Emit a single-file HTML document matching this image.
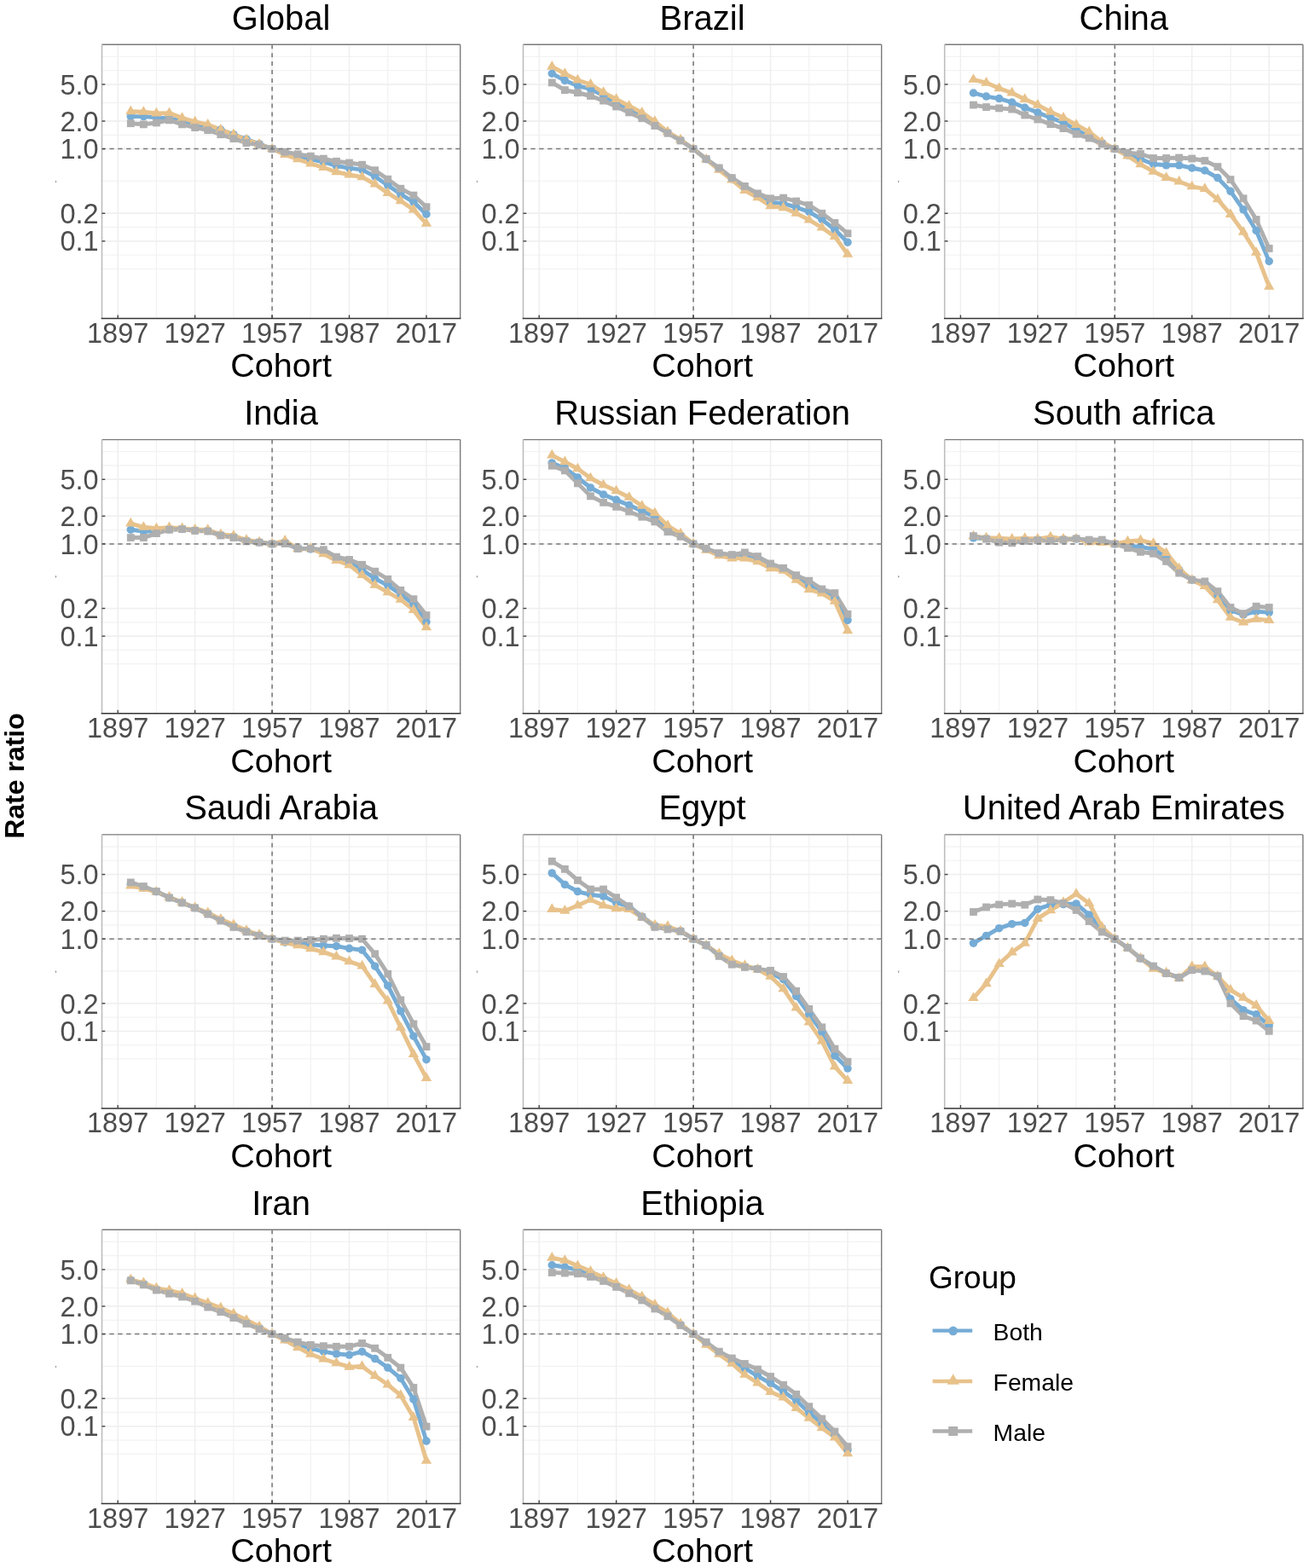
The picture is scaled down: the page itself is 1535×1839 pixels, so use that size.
<!DOCTYPE html>
<html><head><meta charset="utf-8"><title>Rate ratio by cohort</title>
<style>html,body{margin:0;padding:0;background:#fff;overflow:hidden;}svg{display:block;}text{font-family:"Liberation Sans", Arial, Helvetica, sans-serif;}</style></head><body>
<svg width="1535" height="1839" viewBox="0 0 1535 1839">
<rect x="0" y="0" width="1535" height="1839" fill="#fff"/>
<g transform="translate(119.5 52.3)">
<line x1="0" x2="420.2" y1="14.1" y2="14.1" stroke="#F3F3F3" stroke-width="1.3"/>
<line x1="0" x2="420.2" y1="30.39" y2="30.39" stroke="#F3F3F3" stroke-width="1.3"/>
<line x1="0" x2="420.2" y1="46.67" y2="46.67" stroke="#F3F3F3" stroke-width="1.3"/>
<line x1="0" x2="420.2" y1="68.2" y2="68.2" stroke="#F3F3F3" stroke-width="1.3"/>
<line x1="0" x2="420.2" y1="89.73" y2="89.73" stroke="#F3F3F3" stroke-width="1.3"/>
<line x1="0" x2="420.2" y1="106.01" y2="106.01" stroke="#F3F3F3" stroke-width="1.3"/>
<line x1="0" x2="420.2" y1="122.3" y2="122.3" stroke="#F3F3F3" stroke-width="1.3"/>
<line x1="0" x2="420.2" y1="160.11" y2="160.11" stroke="#F3F3F3" stroke-width="1.3"/>
<line x1="0" x2="420.2" y1="197.93" y2="197.93" stroke="#F3F3F3" stroke-width="1.3"/>
<line x1="0" x2="420.2" y1="214.21" y2="214.21" stroke="#F3F3F3" stroke-width="1.3"/>
<line x1="0" x2="420.2" y1="230.5" y2="230.5" stroke="#F3F3F3" stroke-width="1.3"/>
<line x1="0" x2="420.2" y1="246.79" y2="246.79" stroke="#F3F3F3" stroke-width="1.3"/>
<line x1="0" x2="420.2" y1="263.07" y2="263.07" stroke="#F3F3F3" stroke-width="1.3"/>
<line x1="63.92" x2="63.92" y1="0" y2="321.1" stroke="#F3F3F3" stroke-width="1.3"/>
<line x1="154.38" x2="154.38" y1="0" y2="321.1" stroke="#F3F3F3" stroke-width="1.3"/>
<line x1="244.82" x2="244.82" y1="0" y2="321.1" stroke="#F3F3F3" stroke-width="1.3"/>
<line x1="335.27" x2="335.27" y1="0" y2="321.1" stroke="#F3F3F3" stroke-width="1.3"/>
<line x1="0" x2="420.2" y1="46.67" y2="46.67" stroke="#EFEFEF" stroke-width="1.5"/>
<line x1="0" x2="420.2" y1="89.73" y2="89.73" stroke="#EFEFEF" stroke-width="1.5"/>
<line x1="0" x2="420.2" y1="122.3" y2="122.3" stroke="#EFEFEF" stroke-width="1.5"/>
<line x1="0" x2="420.2" y1="197.93" y2="197.93" stroke="#EFEFEF" stroke-width="1.5"/>
<line x1="0" x2="420.2" y1="230.5" y2="230.5" stroke="#EFEFEF" stroke-width="1.5"/>
<line x1="18.7" x2="18.7" y1="0" y2="321.1" stroke="#EFEFEF" stroke-width="1.5"/>
<line x1="109.15" x2="109.15" y1="0" y2="321.1" stroke="#EFEFEF" stroke-width="1.5"/>
<line x1="199.6" x2="199.6" y1="0" y2="321.1" stroke="#EFEFEF" stroke-width="1.5"/>
<line x1="290.05" x2="290.05" y1="0" y2="321.1" stroke="#EFEFEF" stroke-width="1.5"/>
<line x1="380.5" x2="380.5" y1="0" y2="321.1" stroke="#EFEFEF" stroke-width="1.5"/>
<ellipse cx="-54" cy="160.75" rx="0.7" ry="1.3" fill="#9a9a9a"/>
<path d="M33.77 84.3L48.85 84.3L63.92 85.5L79 86.8L94.08 89.3L109.15 93L124.23 96.7L139.3 99.8L154.38 105.4L169.45 110.9L184.53 116.5L199.6 122.3L214.67 127.2L229.75 130.5L244.82 134.4L259.9 137.7L274.98 142.2L290.05 144.8L305.12 146.8L320.2 154.6L335.27 165L350.35 175.5L365.43 184.6L380.5 198.9" fill="none" stroke="#75ACD6" stroke-width="4.9" stroke-linejoin="round" stroke-linecap="butt"/>
<path d="M33.77 78.4L48.85 79L63.92 80.6L79 80.3L94.08 86.1L109.15 90.5L124.23 93.9L139.3 99.8L154.38 105.4L169.45 111.6L184.53 116.8L199.6 122.3L214.67 129.2L229.75 134.4L244.82 139.6L259.9 144.2L274.98 149.4L290.05 152.7L305.12 155.3L320.2 163.7L335.27 174.1L350.35 183.3L365.43 193.7L380.5 210" fill="none" stroke="#E8C28B" stroke-width="4.9" stroke-linejoin="round" stroke-linecap="butt"/>
<path d="M33.77 92.4L48.85 93.6L63.92 91.7L79 88.6L94.08 93.6L109.15 97.3L124.23 100.4L139.3 105.4L154.38 110.3L169.45 115.3L184.53 117.7L199.6 122.3L214.67 125.9L229.75 128.5L244.82 130.9L259.9 133.8L274.98 137L290.05 138.7L305.12 140.9L320.2 147.4L335.27 157.9L350.35 168.9L365.43 176.8L380.5 190.4" fill="none" stroke="#AFAFAF" stroke-width="4.9" stroke-linejoin="round" stroke-linecap="butt"/>
<circle cx="33.77" cy="84.3" r="4.75" fill="#75ACD6"/>
<circle cx="48.85" cy="84.3" r="4.75" fill="#75ACD6"/>
<circle cx="63.92" cy="85.5" r="4.75" fill="#75ACD6"/>
<circle cx="79" cy="86.8" r="4.75" fill="#75ACD6"/>
<circle cx="94.08" cy="89.3" r="4.75" fill="#75ACD6"/>
<circle cx="109.15" cy="93" r="4.75" fill="#75ACD6"/>
<circle cx="124.23" cy="96.7" r="4.75" fill="#75ACD6"/>
<circle cx="139.3" cy="99.8" r="4.75" fill="#75ACD6"/>
<circle cx="154.38" cy="105.4" r="4.75" fill="#75ACD6"/>
<circle cx="169.45" cy="110.9" r="4.75" fill="#75ACD6"/>
<circle cx="184.53" cy="116.5" r="4.75" fill="#75ACD6"/>
<circle cx="199.6" cy="122.3" r="4.75" fill="#75ACD6"/>
<circle cx="214.67" cy="127.2" r="4.75" fill="#75ACD6"/>
<circle cx="229.75" cy="130.5" r="4.75" fill="#75ACD6"/>
<circle cx="244.82" cy="134.4" r="4.75" fill="#75ACD6"/>
<circle cx="259.9" cy="137.7" r="4.75" fill="#75ACD6"/>
<circle cx="274.98" cy="142.2" r="4.75" fill="#75ACD6"/>
<circle cx="290.05" cy="144.8" r="4.75" fill="#75ACD6"/>
<circle cx="305.12" cy="146.8" r="4.75" fill="#75ACD6"/>
<circle cx="320.2" cy="154.6" r="4.75" fill="#75ACD6"/>
<circle cx="335.27" cy="165" r="4.75" fill="#75ACD6"/>
<circle cx="350.35" cy="175.5" r="4.75" fill="#75ACD6"/>
<circle cx="365.43" cy="184.6" r="4.75" fill="#75ACD6"/>
<circle cx="380.5" cy="198.9" r="4.75" fill="#75ACD6"/>
<path d="M33.77 71.27L39.95 81.97L27.6 81.97ZM48.85 71.87L55.03 82.57L42.67 82.57ZM63.92 73.47L70.1 84.17L57.75 84.17ZM79 73.17L85.18 83.87L72.82 83.87ZM94.08 78.97L100.25 89.67L87.9 89.67ZM109.15 83.37L115.33 94.07L102.97 94.07ZM124.23 86.77L130.4 97.47L118.05 97.47ZM139.3 92.67L145.48 103.37L133.12 103.37ZM154.38 98.27L160.55 108.97L148.2 108.97ZM169.45 104.47L175.63 115.17L163.27 115.17ZM184.53 109.67L190.7 120.37L178.35 120.37ZM199.6 115.17L205.78 125.87L193.42 125.87ZM214.67 122.07L220.85 132.77L208.5 132.77ZM229.75 127.27L235.93 137.97L223.57 137.97ZM244.82 132.47L251 143.17L238.65 143.17ZM259.9 137.07L266.08 147.77L253.72 147.77ZM274.98 142.27L281.15 152.97L268.8 152.97ZM290.05 145.57L296.23 156.27L283.87 156.27ZM305.12 148.17L311.3 158.87L298.95 158.87ZM320.2 156.57L326.38 167.27L314.02 167.27ZM335.27 166.97L341.45 177.67L329.1 177.67ZM350.35 176.17L356.53 186.87L344.17 186.87ZM365.43 186.57L371.6 197.27L359.25 197.27ZM380.5 202.87L386.68 213.57L374.32 213.57Z" fill="#E8C28B"/>
<rect x="29.38" y="88" width="8.8" height="8.8" fill="#AFAFAF"/>
<rect x="44.45" y="89.2" width="8.8" height="8.8" fill="#AFAFAF"/>
<rect x="59.52" y="87.3" width="8.8" height="8.8" fill="#AFAFAF"/>
<rect x="74.6" y="84.2" width="8.8" height="8.8" fill="#AFAFAF"/>
<rect x="89.67" y="89.2" width="8.8" height="8.8" fill="#AFAFAF"/>
<rect x="104.75" y="92.9" width="8.8" height="8.8" fill="#AFAFAF"/>
<rect x="119.83" y="96" width="8.8" height="8.8" fill="#AFAFAF"/>
<rect x="134.9" y="101" width="8.8" height="8.8" fill="#AFAFAF"/>
<rect x="149.97" y="105.9" width="8.8" height="8.8" fill="#AFAFAF"/>
<rect x="165.05" y="110.9" width="8.8" height="8.8" fill="#AFAFAF"/>
<rect x="180.12" y="113.3" width="8.8" height="8.8" fill="#AFAFAF"/>
<rect x="195.2" y="117.9" width="8.8" height="8.8" fill="#AFAFAF"/>
<rect x="210.27" y="121.5" width="8.8" height="8.8" fill="#AFAFAF"/>
<rect x="225.35" y="124.1" width="8.8" height="8.8" fill="#AFAFAF"/>
<rect x="240.42" y="126.5" width="8.8" height="8.8" fill="#AFAFAF"/>
<rect x="255.5" y="129.4" width="8.8" height="8.8" fill="#AFAFAF"/>
<rect x="270.58" y="132.6" width="8.8" height="8.8" fill="#AFAFAF"/>
<rect x="285.65" y="134.3" width="8.8" height="8.8" fill="#AFAFAF"/>
<rect x="300.73" y="136.5" width="8.8" height="8.8" fill="#AFAFAF"/>
<rect x="315.8" y="143" width="8.8" height="8.8" fill="#AFAFAF"/>
<rect x="330.88" y="153.5" width="8.8" height="8.8" fill="#AFAFAF"/>
<rect x="345.95" y="164.5" width="8.8" height="8.8" fill="#AFAFAF"/>
<rect x="361.03" y="172.4" width="8.8" height="8.8" fill="#AFAFAF"/>
<rect x="376.1" y="186" width="8.8" height="8.8" fill="#AFAFAF"/>
<line x1="0" x2="420.2" y1="122.3" y2="122.3" stroke="#7a7a7a" stroke-width="1.5" stroke-dasharray="5.3 4.6" stroke-dashoffset="1"/>
<line x1="199.6" x2="199.6" y1="0" y2="321.1" stroke="#747474" stroke-width="1.5" stroke-dasharray="5 4.9"/>
<line x1="0" y1="0" x2="420.2" y2="0" stroke="#7a7a7a" stroke-width="1.4"/>
<line x1="420.2" y1="0" x2="420.2" y2="321.1" stroke="#7a7a7a" stroke-width="1.4"/>
<line x1="0" y1="0" x2="0" y2="321.1" stroke="#bdbdbd" stroke-width="1.6"/>
<line x1="-0.8" y1="321.1" x2="420.9" y2="321.1" stroke="#333" stroke-width="1.5"/>
<line x1="0" x2="3.8" y1="46.67" y2="46.67" stroke="#444" stroke-width="1.4"/>
<line x1="0" x2="3.8" y1="89.73" y2="89.73" stroke="#444" stroke-width="1.4"/>
<line x1="0" x2="3.8" y1="122.3" y2="122.3" stroke="#444" stroke-width="1.4"/>
<line x1="0" x2="3.8" y1="197.93" y2="197.93" stroke="#444" stroke-width="1.4"/>
<line x1="0" x2="3.8" y1="230.5" y2="230.5" stroke="#444" stroke-width="1.4"/>
<line x1="18.7" x2="18.7" y1="321.1" y2="317.1" stroke="#444" stroke-width="1.4"/>
<line x1="109.15" x2="109.15" y1="321.1" y2="317.1" stroke="#444" stroke-width="1.4"/>
<line x1="199.6" x2="199.6" y1="321.1" y2="317.1" stroke="#444" stroke-width="1.4"/>
<line x1="290.05" x2="290.05" y1="321.1" y2="317.1" stroke="#444" stroke-width="1.4"/>
<line x1="380.5" x2="380.5" y1="321.1" y2="317.1" stroke="#444" stroke-width="1.4"/>
<text x="-3.8" y="58.37" text-anchor="end" font-size="32.5" fill="#4D4D4D">5.0</text>
<text x="-3.8" y="101.43" text-anchor="end" font-size="32.5" fill="#4D4D4D">2.0</text>
<text x="-3.8" y="134" text-anchor="end" font-size="32.5" fill="#4D4D4D">1.0</text>
<text x="-3.8" y="209.63" text-anchor="end" font-size="32.5" fill="#4D4D4D">0.2</text>
<text x="-3.8" y="242.2" text-anchor="end" font-size="32.5" fill="#4D4D4D">0.1</text>
<text x="18.7" y="349.5" text-anchor="middle" font-size="32.5" fill="#4D4D4D">1897</text>
<text x="109.15" y="349.5" text-anchor="middle" font-size="32.5" fill="#4D4D4D">1927</text>
<text x="199.6" y="349.5" text-anchor="middle" font-size="32.5" fill="#4D4D4D">1957</text>
<text x="290.05" y="349.5" text-anchor="middle" font-size="32.5" fill="#4D4D4D">1987</text>
<text x="380.5" y="349.5" text-anchor="middle" font-size="32.5" fill="#4D4D4D">2017</text>
<text x="210.1" y="-17.6" text-anchor="middle" font-size="40" fill="#000">Global</text>
<text x="210.1" y="390.1" text-anchor="middle" font-size="39.5" fill="#000">Cohort</text>
</g>
<g transform="translate(613.5 52.3)">
<line x1="0" x2="420.2" y1="14.1" y2="14.1" stroke="#F3F3F3" stroke-width="1.3"/>
<line x1="0" x2="420.2" y1="30.39" y2="30.39" stroke="#F3F3F3" stroke-width="1.3"/>
<line x1="0" x2="420.2" y1="46.67" y2="46.67" stroke="#F3F3F3" stroke-width="1.3"/>
<line x1="0" x2="420.2" y1="68.2" y2="68.2" stroke="#F3F3F3" stroke-width="1.3"/>
<line x1="0" x2="420.2" y1="89.73" y2="89.73" stroke="#F3F3F3" stroke-width="1.3"/>
<line x1="0" x2="420.2" y1="106.01" y2="106.01" stroke="#F3F3F3" stroke-width="1.3"/>
<line x1="0" x2="420.2" y1="122.3" y2="122.3" stroke="#F3F3F3" stroke-width="1.3"/>
<line x1="0" x2="420.2" y1="160.11" y2="160.11" stroke="#F3F3F3" stroke-width="1.3"/>
<line x1="0" x2="420.2" y1="197.93" y2="197.93" stroke="#F3F3F3" stroke-width="1.3"/>
<line x1="0" x2="420.2" y1="214.21" y2="214.21" stroke="#F3F3F3" stroke-width="1.3"/>
<line x1="0" x2="420.2" y1="230.5" y2="230.5" stroke="#F3F3F3" stroke-width="1.3"/>
<line x1="0" x2="420.2" y1="246.79" y2="246.79" stroke="#F3F3F3" stroke-width="1.3"/>
<line x1="0" x2="420.2" y1="263.07" y2="263.07" stroke="#F3F3F3" stroke-width="1.3"/>
<line x1="63.92" x2="63.92" y1="0" y2="321.1" stroke="#F3F3F3" stroke-width="1.3"/>
<line x1="154.38" x2="154.38" y1="0" y2="321.1" stroke="#F3F3F3" stroke-width="1.3"/>
<line x1="244.82" x2="244.82" y1="0" y2="321.1" stroke="#F3F3F3" stroke-width="1.3"/>
<line x1="335.27" x2="335.27" y1="0" y2="321.1" stroke="#F3F3F3" stroke-width="1.3"/>
<line x1="0" x2="420.2" y1="46.67" y2="46.67" stroke="#EFEFEF" stroke-width="1.5"/>
<line x1="0" x2="420.2" y1="89.73" y2="89.73" stroke="#EFEFEF" stroke-width="1.5"/>
<line x1="0" x2="420.2" y1="122.3" y2="122.3" stroke="#EFEFEF" stroke-width="1.5"/>
<line x1="0" x2="420.2" y1="197.93" y2="197.93" stroke="#EFEFEF" stroke-width="1.5"/>
<line x1="0" x2="420.2" y1="230.5" y2="230.5" stroke="#EFEFEF" stroke-width="1.5"/>
<line x1="18.7" x2="18.7" y1="0" y2="321.1" stroke="#EFEFEF" stroke-width="1.5"/>
<line x1="109.15" x2="109.15" y1="0" y2="321.1" stroke="#EFEFEF" stroke-width="1.5"/>
<line x1="199.6" x2="199.6" y1="0" y2="321.1" stroke="#EFEFEF" stroke-width="1.5"/>
<line x1="290.05" x2="290.05" y1="0" y2="321.1" stroke="#EFEFEF" stroke-width="1.5"/>
<line x1="380.5" x2="380.5" y1="0" y2="321.1" stroke="#EFEFEF" stroke-width="1.5"/>
<ellipse cx="-54" cy="160.75" rx="0.7" ry="1.3" fill="#9a9a9a"/>
<path d="M33.77 33.95L48.85 42.1L63.92 48.3L79 52.1L94.08 59.7L109.15 69.2L124.23 75.7L139.3 83.2L154.38 92.7L169.45 103.2L184.53 112L199.6 122.3L214.67 134.4L229.75 145.7L244.82 157.5L259.9 168.6L274.98 177.1L290.05 185L305.12 186.3L320.2 190.9L335.27 196.1L350.35 205.2L365.43 216.9L380.5 231.9" fill="none" stroke="#75ACD6" stroke-width="4.9" stroke-linejoin="round" stroke-linecap="butt"/>
<path d="M33.77 25.8L48.85 34.2L63.92 41.7L79 46.7L94.08 56L109.15 64.2L124.23 72L139.3 79.8L154.38 90.1L169.45 102.3L184.53 111.6L199.6 122.3L214.67 134.6L229.75 147L244.82 158.7L259.9 171.1L274.98 179.5L290.05 189.3L305.12 191.3L320.2 197.8L335.27 205.6L350.35 214.7L365.43 225.1L380.5 246" fill="none" stroke="#E8C28B" stroke-width="4.9" stroke-linejoin="round" stroke-linecap="butt"/>
<path d="M33.77 44.6L48.85 53.3L63.92 56.45L79 60.2L94.08 65.8L109.15 72.7L124.23 79.6L139.3 86.45L154.38 95.2L169.45 103.95L184.53 112.7L199.6 122.3L214.67 134.2L229.75 144.6L244.82 156.3L259.9 166.1L274.98 174.6L290.05 180.5L305.12 179.8L320.2 183.7L335.27 188.3L350.35 198L365.43 209.1L380.5 221.5" fill="none" stroke="#AFAFAF" stroke-width="4.9" stroke-linejoin="round" stroke-linecap="butt"/>
<circle cx="33.77" cy="33.95" r="4.75" fill="#75ACD6"/>
<circle cx="48.85" cy="42.1" r="4.75" fill="#75ACD6"/>
<circle cx="63.92" cy="48.3" r="4.75" fill="#75ACD6"/>
<circle cx="79" cy="52.1" r="4.75" fill="#75ACD6"/>
<circle cx="94.08" cy="59.7" r="4.75" fill="#75ACD6"/>
<circle cx="109.15" cy="69.2" r="4.75" fill="#75ACD6"/>
<circle cx="124.23" cy="75.7" r="4.75" fill="#75ACD6"/>
<circle cx="139.3" cy="83.2" r="4.75" fill="#75ACD6"/>
<circle cx="154.38" cy="92.7" r="4.75" fill="#75ACD6"/>
<circle cx="169.45" cy="103.2" r="4.75" fill="#75ACD6"/>
<circle cx="184.53" cy="112" r="4.75" fill="#75ACD6"/>
<circle cx="199.6" cy="122.3" r="4.75" fill="#75ACD6"/>
<circle cx="214.67" cy="134.4" r="4.75" fill="#75ACD6"/>
<circle cx="229.75" cy="145.7" r="4.75" fill="#75ACD6"/>
<circle cx="244.82" cy="157.5" r="4.75" fill="#75ACD6"/>
<circle cx="259.9" cy="168.6" r="4.75" fill="#75ACD6"/>
<circle cx="274.98" cy="177.1" r="4.75" fill="#75ACD6"/>
<circle cx="290.05" cy="185" r="4.75" fill="#75ACD6"/>
<circle cx="305.12" cy="186.3" r="4.75" fill="#75ACD6"/>
<circle cx="320.2" cy="190.9" r="4.75" fill="#75ACD6"/>
<circle cx="335.27" cy="196.1" r="4.75" fill="#75ACD6"/>
<circle cx="350.35" cy="205.2" r="4.75" fill="#75ACD6"/>
<circle cx="365.43" cy="216.9" r="4.75" fill="#75ACD6"/>
<circle cx="380.5" cy="231.9" r="4.75" fill="#75ACD6"/>
<path d="M33.77 18.67L39.95 29.37L27.6 29.37ZM48.85 27.07L55.03 37.77L42.67 37.77ZM63.92 34.57L70.1 45.27L57.75 45.27ZM79 39.57L85.18 50.27L72.82 50.27ZM94.08 48.87L100.25 59.57L87.9 59.57ZM109.15 57.07L115.33 67.77L102.97 67.77ZM124.23 64.87L130.4 75.57L118.05 75.57ZM139.3 72.67L145.48 83.37L133.12 83.37ZM154.38 82.97L160.55 93.67L148.2 93.67ZM169.45 95.17L175.63 105.87L163.27 105.87ZM184.53 104.47L190.7 115.17L178.35 115.17ZM199.6 115.17L205.78 125.87L193.42 125.87ZM214.67 127.47L220.85 138.17L208.5 138.17ZM229.75 139.87L235.93 150.57L223.57 150.57ZM244.82 151.57L251 162.27L238.65 162.27ZM259.9 163.97L266.08 174.67L253.72 174.67ZM274.98 172.37L281.15 183.07L268.8 183.07ZM290.05 182.17L296.23 192.87L283.87 192.87ZM305.12 184.17L311.3 194.87L298.95 194.87ZM320.2 190.67L326.38 201.37L314.02 201.37ZM335.27 198.47L341.45 209.17L329.1 209.17ZM350.35 207.57L356.53 218.27L344.17 218.27ZM365.43 217.97L371.6 228.67L359.25 228.67ZM380.5 238.87L386.68 249.57L374.32 249.57Z" fill="#E8C28B"/>
<rect x="29.38" y="40.2" width="8.8" height="8.8" fill="#AFAFAF"/>
<rect x="44.45" y="48.9" width="8.8" height="8.8" fill="#AFAFAF"/>
<rect x="59.52" y="52.05" width="8.8" height="8.8" fill="#AFAFAF"/>
<rect x="74.6" y="55.8" width="8.8" height="8.8" fill="#AFAFAF"/>
<rect x="89.67" y="61.4" width="8.8" height="8.8" fill="#AFAFAF"/>
<rect x="104.75" y="68.3" width="8.8" height="8.8" fill="#AFAFAF"/>
<rect x="119.83" y="75.2" width="8.8" height="8.8" fill="#AFAFAF"/>
<rect x="134.9" y="82.05" width="8.8" height="8.8" fill="#AFAFAF"/>
<rect x="149.97" y="90.8" width="8.8" height="8.8" fill="#AFAFAF"/>
<rect x="165.05" y="99.55" width="8.8" height="8.8" fill="#AFAFAF"/>
<rect x="180.12" y="108.3" width="8.8" height="8.8" fill="#AFAFAF"/>
<rect x="195.2" y="117.9" width="8.8" height="8.8" fill="#AFAFAF"/>
<rect x="210.27" y="129.8" width="8.8" height="8.8" fill="#AFAFAF"/>
<rect x="225.35" y="140.2" width="8.8" height="8.8" fill="#AFAFAF"/>
<rect x="240.42" y="151.9" width="8.8" height="8.8" fill="#AFAFAF"/>
<rect x="255.5" y="161.7" width="8.8" height="8.8" fill="#AFAFAF"/>
<rect x="270.58" y="170.2" width="8.8" height="8.8" fill="#AFAFAF"/>
<rect x="285.65" y="176.1" width="8.8" height="8.8" fill="#AFAFAF"/>
<rect x="300.73" y="175.4" width="8.8" height="8.8" fill="#AFAFAF"/>
<rect x="315.8" y="179.3" width="8.8" height="8.8" fill="#AFAFAF"/>
<rect x="330.88" y="183.9" width="8.8" height="8.8" fill="#AFAFAF"/>
<rect x="345.95" y="193.6" width="8.8" height="8.8" fill="#AFAFAF"/>
<rect x="361.03" y="204.7" width="8.8" height="8.8" fill="#AFAFAF"/>
<rect x="376.1" y="217.1" width="8.8" height="8.8" fill="#AFAFAF"/>
<line x1="0" x2="420.2" y1="122.3" y2="122.3" stroke="#7a7a7a" stroke-width="1.5" stroke-dasharray="5.3 4.6" stroke-dashoffset="1"/>
<line x1="199.6" x2="199.6" y1="0" y2="321.1" stroke="#747474" stroke-width="1.5" stroke-dasharray="5 4.9"/>
<line x1="0" y1="0" x2="420.2" y2="0" stroke="#7a7a7a" stroke-width="1.4"/>
<line x1="420.2" y1="0" x2="420.2" y2="321.1" stroke="#7a7a7a" stroke-width="1.4"/>
<line x1="0" y1="0" x2="0" y2="321.1" stroke="#bdbdbd" stroke-width="1.6"/>
<line x1="-0.8" y1="321.1" x2="420.9" y2="321.1" stroke="#333" stroke-width="1.5"/>
<line x1="0" x2="3.8" y1="46.67" y2="46.67" stroke="#444" stroke-width="1.4"/>
<line x1="0" x2="3.8" y1="89.73" y2="89.73" stroke="#444" stroke-width="1.4"/>
<line x1="0" x2="3.8" y1="122.3" y2="122.3" stroke="#444" stroke-width="1.4"/>
<line x1="0" x2="3.8" y1="197.93" y2="197.93" stroke="#444" stroke-width="1.4"/>
<line x1="0" x2="3.8" y1="230.5" y2="230.5" stroke="#444" stroke-width="1.4"/>
<line x1="18.7" x2="18.7" y1="321.1" y2="317.1" stroke="#444" stroke-width="1.4"/>
<line x1="109.15" x2="109.15" y1="321.1" y2="317.1" stroke="#444" stroke-width="1.4"/>
<line x1="199.6" x2="199.6" y1="321.1" y2="317.1" stroke="#444" stroke-width="1.4"/>
<line x1="290.05" x2="290.05" y1="321.1" y2="317.1" stroke="#444" stroke-width="1.4"/>
<line x1="380.5" x2="380.5" y1="321.1" y2="317.1" stroke="#444" stroke-width="1.4"/>
<text x="-3.8" y="58.37" text-anchor="end" font-size="32.5" fill="#4D4D4D">5.0</text>
<text x="-3.8" y="101.43" text-anchor="end" font-size="32.5" fill="#4D4D4D">2.0</text>
<text x="-3.8" y="134" text-anchor="end" font-size="32.5" fill="#4D4D4D">1.0</text>
<text x="-3.8" y="209.63" text-anchor="end" font-size="32.5" fill="#4D4D4D">0.2</text>
<text x="-3.8" y="242.2" text-anchor="end" font-size="32.5" fill="#4D4D4D">0.1</text>
<text x="18.7" y="349.5" text-anchor="middle" font-size="32.5" fill="#4D4D4D">1897</text>
<text x="109.15" y="349.5" text-anchor="middle" font-size="32.5" fill="#4D4D4D">1927</text>
<text x="199.6" y="349.5" text-anchor="middle" font-size="32.5" fill="#4D4D4D">1957</text>
<text x="290.05" y="349.5" text-anchor="middle" font-size="32.5" fill="#4D4D4D">1987</text>
<text x="380.5" y="349.5" text-anchor="middle" font-size="32.5" fill="#4D4D4D">2017</text>
<text x="210.1" y="-17.6" text-anchor="middle" font-size="40" fill="#000">Brazil</text>
<text x="210.1" y="390.1" text-anchor="middle" font-size="39.5" fill="#000">Cohort</text>
</g>
<g transform="translate(1107.7 52.3)">
<line x1="0" x2="420.2" y1="14.1" y2="14.1" stroke="#F3F3F3" stroke-width="1.3"/>
<line x1="0" x2="420.2" y1="30.39" y2="30.39" stroke="#F3F3F3" stroke-width="1.3"/>
<line x1="0" x2="420.2" y1="46.67" y2="46.67" stroke="#F3F3F3" stroke-width="1.3"/>
<line x1="0" x2="420.2" y1="68.2" y2="68.2" stroke="#F3F3F3" stroke-width="1.3"/>
<line x1="0" x2="420.2" y1="89.73" y2="89.73" stroke="#F3F3F3" stroke-width="1.3"/>
<line x1="0" x2="420.2" y1="106.01" y2="106.01" stroke="#F3F3F3" stroke-width="1.3"/>
<line x1="0" x2="420.2" y1="122.3" y2="122.3" stroke="#F3F3F3" stroke-width="1.3"/>
<line x1="0" x2="420.2" y1="160.11" y2="160.11" stroke="#F3F3F3" stroke-width="1.3"/>
<line x1="0" x2="420.2" y1="197.93" y2="197.93" stroke="#F3F3F3" stroke-width="1.3"/>
<line x1="0" x2="420.2" y1="214.21" y2="214.21" stroke="#F3F3F3" stroke-width="1.3"/>
<line x1="0" x2="420.2" y1="230.5" y2="230.5" stroke="#F3F3F3" stroke-width="1.3"/>
<line x1="0" x2="420.2" y1="246.79" y2="246.79" stroke="#F3F3F3" stroke-width="1.3"/>
<line x1="0" x2="420.2" y1="263.07" y2="263.07" stroke="#F3F3F3" stroke-width="1.3"/>
<line x1="63.92" x2="63.92" y1="0" y2="321.1" stroke="#F3F3F3" stroke-width="1.3"/>
<line x1="154.38" x2="154.38" y1="0" y2="321.1" stroke="#F3F3F3" stroke-width="1.3"/>
<line x1="244.82" x2="244.82" y1="0" y2="321.1" stroke="#F3F3F3" stroke-width="1.3"/>
<line x1="335.27" x2="335.27" y1="0" y2="321.1" stroke="#F3F3F3" stroke-width="1.3"/>
<line x1="0" x2="420.2" y1="46.67" y2="46.67" stroke="#EFEFEF" stroke-width="1.5"/>
<line x1="0" x2="420.2" y1="89.73" y2="89.73" stroke="#EFEFEF" stroke-width="1.5"/>
<line x1="0" x2="420.2" y1="122.3" y2="122.3" stroke="#EFEFEF" stroke-width="1.5"/>
<line x1="0" x2="420.2" y1="197.93" y2="197.93" stroke="#EFEFEF" stroke-width="1.5"/>
<line x1="0" x2="420.2" y1="230.5" y2="230.5" stroke="#EFEFEF" stroke-width="1.5"/>
<line x1="18.7" x2="18.7" y1="0" y2="321.1" stroke="#EFEFEF" stroke-width="1.5"/>
<line x1="109.15" x2="109.15" y1="0" y2="321.1" stroke="#EFEFEF" stroke-width="1.5"/>
<line x1="199.6" x2="199.6" y1="0" y2="321.1" stroke="#EFEFEF" stroke-width="1.5"/>
<line x1="290.05" x2="290.05" y1="0" y2="321.1" stroke="#EFEFEF" stroke-width="1.5"/>
<line x1="380.5" x2="380.5" y1="0" y2="321.1" stroke="#EFEFEF" stroke-width="1.5"/>
<ellipse cx="-54" cy="160.75" rx="0.7" ry="1.3" fill="#9a9a9a"/>
<path d="M33.77 56.7L48.85 60.8L63.92 63.3L79 67.7L94.08 73.95L109.15 79.6L124.23 85.8L139.3 91.45L154.38 100.2L169.45 107.7L184.53 115.2L199.6 122.3L214.67 129.6L229.75 134.2L244.82 140.2L259.9 141.5L274.98 141.5L290.05 144.7L305.12 147.7L320.2 156.3L335.27 172L350.35 193.5L365.43 218.2L380.5 254.1" fill="none" stroke="#75ACD6" stroke-width="4.9" stroke-linejoin="round" stroke-linecap="butt"/>
<path d="M33.77 41L48.85 44.8L63.92 51.3L79 56.7L94.08 64.2L109.15 70.8L124.23 78.9L139.3 85.8L154.38 94.2L169.45 102.3L184.53 114.2L199.6 122.3L214.67 130.7L229.75 140.5L244.82 148.9L259.9 156.1L274.98 160.7L290.05 166.5L305.12 169.1L320.2 181.5L335.27 199.1L350.35 219.9L365.43 244L380.5 283.8" fill="none" stroke="#E8C28B" stroke-width="4.9" stroke-linejoin="round" stroke-linecap="butt"/>
<path d="M33.77 70.8L48.85 73.3L63.92 74.6L79 75.8L94.08 82.7L109.15 87.7L124.23 93.3L139.3 98.3L154.38 104.9L169.45 109.7L184.53 116.7L199.6 122.3L214.67 127L229.75 128.2L244.82 133.2L259.9 133.2L274.98 132.7L290.05 133.7L305.12 136.2L320.2 143.3L335.27 158.3L350.35 180.5L365.43 205.2L380.5 239.1" fill="none" stroke="#AFAFAF" stroke-width="4.9" stroke-linejoin="round" stroke-linecap="butt"/>
<circle cx="33.77" cy="56.7" r="4.75" fill="#75ACD6"/>
<circle cx="48.85" cy="60.8" r="4.75" fill="#75ACD6"/>
<circle cx="63.92" cy="63.3" r="4.75" fill="#75ACD6"/>
<circle cx="79" cy="67.7" r="4.75" fill="#75ACD6"/>
<circle cx="94.08" cy="73.95" r="4.75" fill="#75ACD6"/>
<circle cx="109.15" cy="79.6" r="4.75" fill="#75ACD6"/>
<circle cx="124.23" cy="85.8" r="4.75" fill="#75ACD6"/>
<circle cx="139.3" cy="91.45" r="4.75" fill="#75ACD6"/>
<circle cx="154.38" cy="100.2" r="4.75" fill="#75ACD6"/>
<circle cx="169.45" cy="107.7" r="4.75" fill="#75ACD6"/>
<circle cx="184.53" cy="115.2" r="4.75" fill="#75ACD6"/>
<circle cx="199.6" cy="122.3" r="4.75" fill="#75ACD6"/>
<circle cx="214.67" cy="129.6" r="4.75" fill="#75ACD6"/>
<circle cx="229.75" cy="134.2" r="4.75" fill="#75ACD6"/>
<circle cx="244.82" cy="140.2" r="4.75" fill="#75ACD6"/>
<circle cx="259.9" cy="141.5" r="4.75" fill="#75ACD6"/>
<circle cx="274.98" cy="141.5" r="4.75" fill="#75ACD6"/>
<circle cx="290.05" cy="144.7" r="4.75" fill="#75ACD6"/>
<circle cx="305.12" cy="147.7" r="4.75" fill="#75ACD6"/>
<circle cx="320.2" cy="156.3" r="4.75" fill="#75ACD6"/>
<circle cx="335.27" cy="172" r="4.75" fill="#75ACD6"/>
<circle cx="350.35" cy="193.5" r="4.75" fill="#75ACD6"/>
<circle cx="365.43" cy="218.2" r="4.75" fill="#75ACD6"/>
<circle cx="380.5" cy="254.1" r="4.75" fill="#75ACD6"/>
<path d="M33.77 33.87L39.95 44.57L27.6 44.57ZM48.85 37.67L55.03 48.37L42.67 48.37ZM63.92 44.17L70.1 54.87L57.75 54.87ZM79 49.57L85.18 60.27L72.82 60.27ZM94.08 57.07L100.25 67.77L87.9 67.77ZM109.15 63.67L115.33 74.37L102.97 74.37ZM124.23 71.77L130.4 82.47L118.05 82.47ZM139.3 78.67L145.48 89.37L133.12 89.37ZM154.38 87.07L160.55 97.77L148.2 97.77ZM169.45 95.17L175.63 105.87L163.27 105.87ZM184.53 107.07L190.7 117.77L178.35 117.77ZM199.6 115.17L205.78 125.87L193.42 125.87ZM214.67 123.57L220.85 134.27L208.5 134.27ZM229.75 133.37L235.93 144.07L223.57 144.07ZM244.82 141.77L251 152.47L238.65 152.47ZM259.9 148.97L266.08 159.67L253.72 159.67ZM274.98 153.57L281.15 164.27L268.8 164.27ZM290.05 159.37L296.23 170.07L283.87 170.07ZM305.12 161.97L311.3 172.67L298.95 172.67ZM320.2 174.37L326.38 185.07L314.02 185.07ZM335.27 191.97L341.45 202.67L329.1 202.67ZM350.35 212.77L356.53 223.47L344.17 223.47ZM365.43 236.87L371.6 247.57L359.25 247.57ZM380.5 276.67L386.68 287.37L374.32 287.37Z" fill="#E8C28B"/>
<rect x="29.38" y="66.4" width="8.8" height="8.8" fill="#AFAFAF"/>
<rect x="44.45" y="68.9" width="8.8" height="8.8" fill="#AFAFAF"/>
<rect x="59.52" y="70.2" width="8.8" height="8.8" fill="#AFAFAF"/>
<rect x="74.6" y="71.4" width="8.8" height="8.8" fill="#AFAFAF"/>
<rect x="89.67" y="78.3" width="8.8" height="8.8" fill="#AFAFAF"/>
<rect x="104.75" y="83.3" width="8.8" height="8.8" fill="#AFAFAF"/>
<rect x="119.83" y="88.9" width="8.8" height="8.8" fill="#AFAFAF"/>
<rect x="134.9" y="93.9" width="8.8" height="8.8" fill="#AFAFAF"/>
<rect x="149.97" y="100.5" width="8.8" height="8.8" fill="#AFAFAF"/>
<rect x="165.05" y="105.3" width="8.8" height="8.8" fill="#AFAFAF"/>
<rect x="180.12" y="112.3" width="8.8" height="8.8" fill="#AFAFAF"/>
<rect x="195.2" y="117.9" width="8.8" height="8.8" fill="#AFAFAF"/>
<rect x="210.27" y="122.6" width="8.8" height="8.8" fill="#AFAFAF"/>
<rect x="225.35" y="123.8" width="8.8" height="8.8" fill="#AFAFAF"/>
<rect x="240.42" y="128.8" width="8.8" height="8.8" fill="#AFAFAF"/>
<rect x="255.5" y="128.8" width="8.8" height="8.8" fill="#AFAFAF"/>
<rect x="270.58" y="128.3" width="8.8" height="8.8" fill="#AFAFAF"/>
<rect x="285.65" y="129.3" width="8.8" height="8.8" fill="#AFAFAF"/>
<rect x="300.73" y="131.8" width="8.8" height="8.8" fill="#AFAFAF"/>
<rect x="315.8" y="138.9" width="8.8" height="8.8" fill="#AFAFAF"/>
<rect x="330.88" y="153.9" width="8.8" height="8.8" fill="#AFAFAF"/>
<rect x="345.95" y="176.1" width="8.8" height="8.8" fill="#AFAFAF"/>
<rect x="361.03" y="200.8" width="8.8" height="8.8" fill="#AFAFAF"/>
<rect x="376.1" y="234.7" width="8.8" height="8.8" fill="#AFAFAF"/>
<line x1="0" x2="420.2" y1="122.3" y2="122.3" stroke="#7a7a7a" stroke-width="1.5" stroke-dasharray="5.3 4.6" stroke-dashoffset="1"/>
<line x1="199.6" x2="199.6" y1="0" y2="321.1" stroke="#747474" stroke-width="1.5" stroke-dasharray="5 4.9"/>
<line x1="0" y1="0" x2="420.2" y2="0" stroke="#7a7a7a" stroke-width="1.4"/>
<line x1="420.2" y1="0" x2="420.2" y2="321.1" stroke="#7a7a7a" stroke-width="1.4"/>
<line x1="0" y1="0" x2="0" y2="321.1" stroke="#bdbdbd" stroke-width="1.6"/>
<line x1="-0.8" y1="321.1" x2="420.9" y2="321.1" stroke="#333" stroke-width="1.5"/>
<line x1="0" x2="3.8" y1="46.67" y2="46.67" stroke="#444" stroke-width="1.4"/>
<line x1="0" x2="3.8" y1="89.73" y2="89.73" stroke="#444" stroke-width="1.4"/>
<line x1="0" x2="3.8" y1="122.3" y2="122.3" stroke="#444" stroke-width="1.4"/>
<line x1="0" x2="3.8" y1="197.93" y2="197.93" stroke="#444" stroke-width="1.4"/>
<line x1="0" x2="3.8" y1="230.5" y2="230.5" stroke="#444" stroke-width="1.4"/>
<line x1="18.7" x2="18.7" y1="321.1" y2="317.1" stroke="#444" stroke-width="1.4"/>
<line x1="109.15" x2="109.15" y1="321.1" y2="317.1" stroke="#444" stroke-width="1.4"/>
<line x1="199.6" x2="199.6" y1="321.1" y2="317.1" stroke="#444" stroke-width="1.4"/>
<line x1="290.05" x2="290.05" y1="321.1" y2="317.1" stroke="#444" stroke-width="1.4"/>
<line x1="380.5" x2="380.5" y1="321.1" y2="317.1" stroke="#444" stroke-width="1.4"/>
<text x="-3.8" y="58.37" text-anchor="end" font-size="32.5" fill="#4D4D4D">5.0</text>
<text x="-3.8" y="101.43" text-anchor="end" font-size="32.5" fill="#4D4D4D">2.0</text>
<text x="-3.8" y="134" text-anchor="end" font-size="32.5" fill="#4D4D4D">1.0</text>
<text x="-3.8" y="209.63" text-anchor="end" font-size="32.5" fill="#4D4D4D">0.2</text>
<text x="-3.8" y="242.2" text-anchor="end" font-size="32.5" fill="#4D4D4D">0.1</text>
<text x="18.7" y="349.5" text-anchor="middle" font-size="32.5" fill="#4D4D4D">1897</text>
<text x="109.15" y="349.5" text-anchor="middle" font-size="32.5" fill="#4D4D4D">1927</text>
<text x="199.6" y="349.5" text-anchor="middle" font-size="32.5" fill="#4D4D4D">1957</text>
<text x="290.05" y="349.5" text-anchor="middle" font-size="32.5" fill="#4D4D4D">1987</text>
<text x="380.5" y="349.5" text-anchor="middle" font-size="32.5" fill="#4D4D4D">2017</text>
<text x="210.1" y="-17.6" text-anchor="middle" font-size="40" fill="#000">China</text>
<text x="210.1" y="390.1" text-anchor="middle" font-size="39.5" fill="#000">Cohort</text>
</g>
<g transform="translate(119.5 515.6)">
<line x1="0" x2="420.2" y1="14.1" y2="14.1" stroke="#F3F3F3" stroke-width="1.3"/>
<line x1="0" x2="420.2" y1="30.39" y2="30.39" stroke="#F3F3F3" stroke-width="1.3"/>
<line x1="0" x2="420.2" y1="46.67" y2="46.67" stroke="#F3F3F3" stroke-width="1.3"/>
<line x1="0" x2="420.2" y1="68.2" y2="68.2" stroke="#F3F3F3" stroke-width="1.3"/>
<line x1="0" x2="420.2" y1="89.73" y2="89.73" stroke="#F3F3F3" stroke-width="1.3"/>
<line x1="0" x2="420.2" y1="106.01" y2="106.01" stroke="#F3F3F3" stroke-width="1.3"/>
<line x1="0" x2="420.2" y1="122.3" y2="122.3" stroke="#F3F3F3" stroke-width="1.3"/>
<line x1="0" x2="420.2" y1="160.11" y2="160.11" stroke="#F3F3F3" stroke-width="1.3"/>
<line x1="0" x2="420.2" y1="197.93" y2="197.93" stroke="#F3F3F3" stroke-width="1.3"/>
<line x1="0" x2="420.2" y1="214.21" y2="214.21" stroke="#F3F3F3" stroke-width="1.3"/>
<line x1="0" x2="420.2" y1="230.5" y2="230.5" stroke="#F3F3F3" stroke-width="1.3"/>
<line x1="0" x2="420.2" y1="246.79" y2="246.79" stroke="#F3F3F3" stroke-width="1.3"/>
<line x1="0" x2="420.2" y1="263.07" y2="263.07" stroke="#F3F3F3" stroke-width="1.3"/>
<line x1="63.92" x2="63.92" y1="0" y2="321.1" stroke="#F3F3F3" stroke-width="1.3"/>
<line x1="154.38" x2="154.38" y1="0" y2="321.1" stroke="#F3F3F3" stroke-width="1.3"/>
<line x1="244.82" x2="244.82" y1="0" y2="321.1" stroke="#F3F3F3" stroke-width="1.3"/>
<line x1="335.27" x2="335.27" y1="0" y2="321.1" stroke="#F3F3F3" stroke-width="1.3"/>
<line x1="0" x2="420.2" y1="46.67" y2="46.67" stroke="#EFEFEF" stroke-width="1.5"/>
<line x1="0" x2="420.2" y1="89.73" y2="89.73" stroke="#EFEFEF" stroke-width="1.5"/>
<line x1="0" x2="420.2" y1="122.3" y2="122.3" stroke="#EFEFEF" stroke-width="1.5"/>
<line x1="0" x2="420.2" y1="197.93" y2="197.93" stroke="#EFEFEF" stroke-width="1.5"/>
<line x1="0" x2="420.2" y1="230.5" y2="230.5" stroke="#EFEFEF" stroke-width="1.5"/>
<line x1="18.7" x2="18.7" y1="0" y2="321.1" stroke="#EFEFEF" stroke-width="1.5"/>
<line x1="109.15" x2="109.15" y1="0" y2="321.1" stroke="#EFEFEF" stroke-width="1.5"/>
<line x1="199.6" x2="199.6" y1="0" y2="321.1" stroke="#EFEFEF" stroke-width="1.5"/>
<line x1="290.05" x2="290.05" y1="0" y2="321.1" stroke="#EFEFEF" stroke-width="1.5"/>
<line x1="380.5" x2="380.5" y1="0" y2="321.1" stroke="#EFEFEF" stroke-width="1.5"/>
<ellipse cx="-54" cy="160.75" rx="0.7" ry="1.3" fill="#9a9a9a"/>
<path d="M33.77 105.62L48.85 107.47L63.92 107.37L79 105.37L94.08 104.87L109.15 106.37L124.23 106.87L139.3 111.87L154.38 113.87L169.45 118.37L184.53 120.37L199.6 122.3L214.67 120.37L229.75 127.37L244.82 128.37L259.9 131.37L274.98 139.87L290.05 144.37L305.12 152.57L320.2 162.97L335.27 170.87L350.35 181.27L365.43 192.97L380.5 213.77" fill="none" stroke="#75ACD6" stroke-width="4.9" stroke-linejoin="round" stroke-linecap="butt"/>
<path d="M33.77 98.37L48.85 102.67L63.92 104.17L79 102.97L94.08 103.97L109.15 105.47L124.23 105.87L139.3 111.17L154.38 112.67L169.45 117.67L184.53 120.17L199.6 122.3L214.67 118.57L229.75 128.17L244.82 127.57L259.9 134.07L274.98 141.87L290.05 147.07L305.12 158.87L320.2 170.57L335.27 179.07L350.35 187.47L365.43 199.87L380.5 220.07" fill="none" stroke="#E8C28B" stroke-width="4.9" stroke-linejoin="round" stroke-linecap="butt"/>
<path d="M33.77 114.97L48.85 114.97L63.92 109.97L79 105.62L94.08 104.97L109.15 106.87L124.23 107.47L139.3 112.47L154.38 114.97L169.45 119.37L184.53 120.62L199.6 122.3L214.67 121.97L229.75 127.87L244.82 127.87L259.9 129.12L274.98 137.57L290.05 140.87L305.12 146.67L320.2 154.57L335.27 163.67L350.35 176.67L365.43 187.07L380.5 205.97" fill="none" stroke="#AFAFAF" stroke-width="4.9" stroke-linejoin="round" stroke-linecap="butt"/>
<circle cx="33.77" cy="105.62" r="4.75" fill="#75ACD6"/>
<circle cx="48.85" cy="107.47" r="4.75" fill="#75ACD6"/>
<circle cx="63.92" cy="107.37" r="4.75" fill="#75ACD6"/>
<circle cx="79" cy="105.37" r="4.75" fill="#75ACD6"/>
<circle cx="94.08" cy="104.87" r="4.75" fill="#75ACD6"/>
<circle cx="109.15" cy="106.37" r="4.75" fill="#75ACD6"/>
<circle cx="124.23" cy="106.87" r="4.75" fill="#75ACD6"/>
<circle cx="139.3" cy="111.87" r="4.75" fill="#75ACD6"/>
<circle cx="154.38" cy="113.87" r="4.75" fill="#75ACD6"/>
<circle cx="169.45" cy="118.37" r="4.75" fill="#75ACD6"/>
<circle cx="184.53" cy="120.37" r="4.75" fill="#75ACD6"/>
<circle cx="199.6" cy="122.3" r="4.75" fill="#75ACD6"/>
<circle cx="214.67" cy="120.37" r="4.75" fill="#75ACD6"/>
<circle cx="229.75" cy="127.37" r="4.75" fill="#75ACD6"/>
<circle cx="244.82" cy="128.37" r="4.75" fill="#75ACD6"/>
<circle cx="259.9" cy="131.37" r="4.75" fill="#75ACD6"/>
<circle cx="274.98" cy="139.87" r="4.75" fill="#75ACD6"/>
<circle cx="290.05" cy="144.37" r="4.75" fill="#75ACD6"/>
<circle cx="305.12" cy="152.57" r="4.75" fill="#75ACD6"/>
<circle cx="320.2" cy="162.97" r="4.75" fill="#75ACD6"/>
<circle cx="335.27" cy="170.87" r="4.75" fill="#75ACD6"/>
<circle cx="350.35" cy="181.27" r="4.75" fill="#75ACD6"/>
<circle cx="365.43" cy="192.97" r="4.75" fill="#75ACD6"/>
<circle cx="380.5" cy="213.77" r="4.75" fill="#75ACD6"/>
<path d="M33.77 91.24L39.95 101.94L27.6 101.94ZM48.85 95.54L55.03 106.24L42.67 106.24ZM63.92 97.04L70.1 107.74L57.75 107.74ZM79 95.84L85.18 106.54L72.82 106.54ZM94.08 96.84L100.25 107.54L87.9 107.54ZM109.15 98.34L115.33 109.04L102.97 109.04ZM124.23 98.74L130.4 109.44L118.05 109.44ZM139.3 104.04L145.48 114.74L133.12 114.74ZM154.38 105.54L160.55 116.24L148.2 116.24ZM169.45 110.54L175.63 121.24L163.27 121.24ZM184.53 113.04L190.7 123.74L178.35 123.74ZM199.6 115.17L205.78 125.87L193.42 125.87ZM214.67 111.44L220.85 122.14L208.5 122.14ZM229.75 121.04L235.93 131.74L223.57 131.74ZM244.82 120.44L251 131.14L238.65 131.14ZM259.9 126.94L266.08 137.64L253.72 137.64ZM274.98 134.74L281.15 145.44L268.8 145.44ZM290.05 139.94L296.23 150.64L283.87 150.64ZM305.12 151.74L311.3 162.44L298.95 162.44ZM320.2 163.44L326.38 174.14L314.02 174.14ZM335.27 171.94L341.45 182.64L329.1 182.64ZM350.35 180.34L356.53 191.04L344.17 191.04ZM365.43 192.74L371.6 203.44L359.25 203.44ZM380.5 212.94L386.68 223.64L374.32 223.64Z" fill="#E8C28B"/>
<rect x="29.38" y="110.57" width="8.8" height="8.8" fill="#AFAFAF"/>
<rect x="44.45" y="110.57" width="8.8" height="8.8" fill="#AFAFAF"/>
<rect x="59.52" y="105.57" width="8.8" height="8.8" fill="#AFAFAF"/>
<rect x="74.6" y="101.22" width="8.8" height="8.8" fill="#AFAFAF"/>
<rect x="89.67" y="100.57" width="8.8" height="8.8" fill="#AFAFAF"/>
<rect x="104.75" y="102.47" width="8.8" height="8.8" fill="#AFAFAF"/>
<rect x="119.83" y="103.07" width="8.8" height="8.8" fill="#AFAFAF"/>
<rect x="134.9" y="108.07" width="8.8" height="8.8" fill="#AFAFAF"/>
<rect x="149.97" y="110.57" width="8.8" height="8.8" fill="#AFAFAF"/>
<rect x="165.05" y="114.97" width="8.8" height="8.8" fill="#AFAFAF"/>
<rect x="180.12" y="116.22" width="8.8" height="8.8" fill="#AFAFAF"/>
<rect x="195.2" y="117.9" width="8.8" height="8.8" fill="#AFAFAF"/>
<rect x="210.27" y="117.57" width="8.8" height="8.8" fill="#AFAFAF"/>
<rect x="225.35" y="123.47" width="8.8" height="8.8" fill="#AFAFAF"/>
<rect x="240.42" y="123.47" width="8.8" height="8.8" fill="#AFAFAF"/>
<rect x="255.5" y="124.72" width="8.8" height="8.8" fill="#AFAFAF"/>
<rect x="270.58" y="133.17" width="8.8" height="8.8" fill="#AFAFAF"/>
<rect x="285.65" y="136.47" width="8.8" height="8.8" fill="#AFAFAF"/>
<rect x="300.73" y="142.27" width="8.8" height="8.8" fill="#AFAFAF"/>
<rect x="315.8" y="150.17" width="8.8" height="8.8" fill="#AFAFAF"/>
<rect x="330.88" y="159.27" width="8.8" height="8.8" fill="#AFAFAF"/>
<rect x="345.95" y="172.27" width="8.8" height="8.8" fill="#AFAFAF"/>
<rect x="361.03" y="182.67" width="8.8" height="8.8" fill="#AFAFAF"/>
<rect x="376.1" y="201.57" width="8.8" height="8.8" fill="#AFAFAF"/>
<line x1="0" x2="420.2" y1="122.3" y2="122.3" stroke="#7a7a7a" stroke-width="1.5" stroke-dasharray="5.3 4.6" stroke-dashoffset="1"/>
<line x1="199.6" x2="199.6" y1="0" y2="321.1" stroke="#747474" stroke-width="1.5" stroke-dasharray="5 4.9"/>
<line x1="0" y1="0" x2="420.2" y2="0" stroke="#7a7a7a" stroke-width="1.4"/>
<line x1="420.2" y1="0" x2="420.2" y2="321.1" stroke="#7a7a7a" stroke-width="1.4"/>
<line x1="0" y1="0" x2="0" y2="321.1" stroke="#bdbdbd" stroke-width="1.6"/>
<line x1="-0.8" y1="321.1" x2="420.9" y2="321.1" stroke="#333" stroke-width="1.5"/>
<line x1="0" x2="3.8" y1="46.67" y2="46.67" stroke="#444" stroke-width="1.4"/>
<line x1="0" x2="3.8" y1="89.73" y2="89.73" stroke="#444" stroke-width="1.4"/>
<line x1="0" x2="3.8" y1="122.3" y2="122.3" stroke="#444" stroke-width="1.4"/>
<line x1="0" x2="3.8" y1="197.93" y2="197.93" stroke="#444" stroke-width="1.4"/>
<line x1="0" x2="3.8" y1="230.5" y2="230.5" stroke="#444" stroke-width="1.4"/>
<line x1="18.7" x2="18.7" y1="321.1" y2="317.1" stroke="#444" stroke-width="1.4"/>
<line x1="109.15" x2="109.15" y1="321.1" y2="317.1" stroke="#444" stroke-width="1.4"/>
<line x1="199.6" x2="199.6" y1="321.1" y2="317.1" stroke="#444" stroke-width="1.4"/>
<line x1="290.05" x2="290.05" y1="321.1" y2="317.1" stroke="#444" stroke-width="1.4"/>
<line x1="380.5" x2="380.5" y1="321.1" y2="317.1" stroke="#444" stroke-width="1.4"/>
<text x="-3.8" y="58.37" text-anchor="end" font-size="32.5" fill="#4D4D4D">5.0</text>
<text x="-3.8" y="101.43" text-anchor="end" font-size="32.5" fill="#4D4D4D">2.0</text>
<text x="-3.8" y="134" text-anchor="end" font-size="32.5" fill="#4D4D4D">1.0</text>
<text x="-3.8" y="209.63" text-anchor="end" font-size="32.5" fill="#4D4D4D">0.2</text>
<text x="-3.8" y="242.2" text-anchor="end" font-size="32.5" fill="#4D4D4D">0.1</text>
<text x="18.7" y="349.5" text-anchor="middle" font-size="32.5" fill="#4D4D4D">1897</text>
<text x="109.15" y="349.5" text-anchor="middle" font-size="32.5" fill="#4D4D4D">1927</text>
<text x="199.6" y="349.5" text-anchor="middle" font-size="32.5" fill="#4D4D4D">1957</text>
<text x="290.05" y="349.5" text-anchor="middle" font-size="32.5" fill="#4D4D4D">1987</text>
<text x="380.5" y="349.5" text-anchor="middle" font-size="32.5" fill="#4D4D4D">2017</text>
<text x="210.1" y="-17.6" text-anchor="middle" font-size="40" fill="#000">India</text>
<text x="210.1" y="390.1" text-anchor="middle" font-size="39.5" fill="#000">Cohort</text>
</g>
<g transform="translate(613.5 515.6)">
<line x1="0" x2="420.2" y1="14.1" y2="14.1" stroke="#F3F3F3" stroke-width="1.3"/>
<line x1="0" x2="420.2" y1="30.39" y2="30.39" stroke="#F3F3F3" stroke-width="1.3"/>
<line x1="0" x2="420.2" y1="46.67" y2="46.67" stroke="#F3F3F3" stroke-width="1.3"/>
<line x1="0" x2="420.2" y1="68.2" y2="68.2" stroke="#F3F3F3" stroke-width="1.3"/>
<line x1="0" x2="420.2" y1="89.73" y2="89.73" stroke="#F3F3F3" stroke-width="1.3"/>
<line x1="0" x2="420.2" y1="106.01" y2="106.01" stroke="#F3F3F3" stroke-width="1.3"/>
<line x1="0" x2="420.2" y1="122.3" y2="122.3" stroke="#F3F3F3" stroke-width="1.3"/>
<line x1="0" x2="420.2" y1="160.11" y2="160.11" stroke="#F3F3F3" stroke-width="1.3"/>
<line x1="0" x2="420.2" y1="197.93" y2="197.93" stroke="#F3F3F3" stroke-width="1.3"/>
<line x1="0" x2="420.2" y1="214.21" y2="214.21" stroke="#F3F3F3" stroke-width="1.3"/>
<line x1="0" x2="420.2" y1="230.5" y2="230.5" stroke="#F3F3F3" stroke-width="1.3"/>
<line x1="0" x2="420.2" y1="246.79" y2="246.79" stroke="#F3F3F3" stroke-width="1.3"/>
<line x1="0" x2="420.2" y1="263.07" y2="263.07" stroke="#F3F3F3" stroke-width="1.3"/>
<line x1="63.92" x2="63.92" y1="0" y2="321.1" stroke="#F3F3F3" stroke-width="1.3"/>
<line x1="154.38" x2="154.38" y1="0" y2="321.1" stroke="#F3F3F3" stroke-width="1.3"/>
<line x1="244.82" x2="244.82" y1="0" y2="321.1" stroke="#F3F3F3" stroke-width="1.3"/>
<line x1="335.27" x2="335.27" y1="0" y2="321.1" stroke="#F3F3F3" stroke-width="1.3"/>
<line x1="0" x2="420.2" y1="46.67" y2="46.67" stroke="#EFEFEF" stroke-width="1.5"/>
<line x1="0" x2="420.2" y1="89.73" y2="89.73" stroke="#EFEFEF" stroke-width="1.5"/>
<line x1="0" x2="420.2" y1="122.3" y2="122.3" stroke="#EFEFEF" stroke-width="1.5"/>
<line x1="0" x2="420.2" y1="197.93" y2="197.93" stroke="#EFEFEF" stroke-width="1.5"/>
<line x1="0" x2="420.2" y1="230.5" y2="230.5" stroke="#EFEFEF" stroke-width="1.5"/>
<line x1="18.7" x2="18.7" y1="0" y2="321.1" stroke="#EFEFEF" stroke-width="1.5"/>
<line x1="109.15" x2="109.15" y1="0" y2="321.1" stroke="#EFEFEF" stroke-width="1.5"/>
<line x1="199.6" x2="199.6" y1="0" y2="321.1" stroke="#EFEFEF" stroke-width="1.5"/>
<line x1="290.05" x2="290.05" y1="0" y2="321.1" stroke="#EFEFEF" stroke-width="1.5"/>
<line x1="380.5" x2="380.5" y1="0" y2="321.1" stroke="#EFEFEF" stroke-width="1.5"/>
<ellipse cx="-54" cy="160.75" rx="0.7" ry="1.3" fill="#9a9a9a"/>
<path d="M33.77 27.37L48.85 33.37L63.92 44.37L79 56.37L94.08 64.37L109.15 70.77L124.23 76.87L139.3 83.67L154.38 90.87L169.45 104.37L184.53 112.17L199.6 122.3L214.67 128.37L229.75 134.37L244.82 136.87L259.9 135.37L274.98 139.37L290.05 147.37L305.12 151.87L320.2 161.37L335.27 170.87L350.35 177.37L365.43 185.17L380.5 211.87" fill="none" stroke="#75ACD6" stroke-width="4.9" stroke-linejoin="round" stroke-linecap="butt"/>
<path d="M33.77 18.37L48.85 26.07L63.92 34.17L79 45.17L94.08 53.17L109.15 60.17L124.23 67.67L139.3 77.67L154.38 86.17L169.45 100.87L184.53 110.17L199.6 122.3L214.67 129.47L229.75 136.07L244.82 139.27L259.9 139.27L274.98 143.17L290.05 150.97L305.12 153.62L320.2 164.67L335.27 175.77L350.35 180.37L365.43 189.47L380.5 223.97" fill="none" stroke="#E8C28B" stroke-width="4.9" stroke-linejoin="round" stroke-linecap="butt"/>
<path d="M33.77 30.62L48.85 36.27L63.92 51.27L79 66.27L94.08 73.77L109.15 78.77L124.23 84.37L139.3 90.62L154.38 96.27L169.45 108.12L184.53 113.77L199.6 122.3L214.67 127.87L229.75 133.07L244.82 134.97L259.9 132.37L274.98 136.97L290.05 145.37L305.12 150.62L320.2 159.07L335.27 165.57L350.35 175.37L365.43 179.97L380.5 204.67" fill="none" stroke="#AFAFAF" stroke-width="4.9" stroke-linejoin="round" stroke-linecap="butt"/>
<circle cx="33.77" cy="27.37" r="4.75" fill="#75ACD6"/>
<circle cx="48.85" cy="33.37" r="4.75" fill="#75ACD6"/>
<circle cx="63.92" cy="44.37" r="4.75" fill="#75ACD6"/>
<circle cx="79" cy="56.37" r="4.75" fill="#75ACD6"/>
<circle cx="94.08" cy="64.37" r="4.75" fill="#75ACD6"/>
<circle cx="109.15" cy="70.77" r="4.75" fill="#75ACD6"/>
<circle cx="124.23" cy="76.87" r="4.75" fill="#75ACD6"/>
<circle cx="139.3" cy="83.67" r="4.75" fill="#75ACD6"/>
<circle cx="154.38" cy="90.87" r="4.75" fill="#75ACD6"/>
<circle cx="169.45" cy="104.37" r="4.75" fill="#75ACD6"/>
<circle cx="184.53" cy="112.17" r="4.75" fill="#75ACD6"/>
<circle cx="199.6" cy="122.3" r="4.75" fill="#75ACD6"/>
<circle cx="214.67" cy="128.37" r="4.75" fill="#75ACD6"/>
<circle cx="229.75" cy="134.37" r="4.75" fill="#75ACD6"/>
<circle cx="244.82" cy="136.87" r="4.75" fill="#75ACD6"/>
<circle cx="259.9" cy="135.37" r="4.75" fill="#75ACD6"/>
<circle cx="274.98" cy="139.37" r="4.75" fill="#75ACD6"/>
<circle cx="290.05" cy="147.37" r="4.75" fill="#75ACD6"/>
<circle cx="305.12" cy="151.87" r="4.75" fill="#75ACD6"/>
<circle cx="320.2" cy="161.37" r="4.75" fill="#75ACD6"/>
<circle cx="335.27" cy="170.87" r="4.75" fill="#75ACD6"/>
<circle cx="350.35" cy="177.37" r="4.75" fill="#75ACD6"/>
<circle cx="365.43" cy="185.17" r="4.75" fill="#75ACD6"/>
<circle cx="380.5" cy="211.87" r="4.75" fill="#75ACD6"/>
<path d="M33.77 11.24L39.95 21.94L27.6 21.94ZM48.85 18.94L55.03 29.64L42.67 29.64ZM63.92 27.04L70.1 37.74L57.75 37.74ZM79 38.04L85.18 48.74L72.82 48.74ZM94.08 46.04L100.25 56.74L87.9 56.74ZM109.15 53.04L115.33 63.74L102.97 63.74ZM124.23 60.54L130.4 71.24L118.05 71.24ZM139.3 70.54L145.48 81.24L133.12 81.24ZM154.38 79.04L160.55 89.74L148.2 89.74ZM169.45 93.74L175.63 104.44L163.27 104.44ZM184.53 103.04L190.7 113.74L178.35 113.74ZM199.6 115.17L205.78 125.87L193.42 125.87ZM214.67 122.34L220.85 133.04L208.5 133.04ZM229.75 128.94L235.93 139.64L223.57 139.64ZM244.82 132.14L251 142.84L238.65 142.84ZM259.9 132.14L266.08 142.84L253.72 142.84ZM274.98 136.04L281.15 146.74L268.8 146.74ZM290.05 143.84L296.23 154.54L283.87 154.54ZM305.12 146.49L311.3 157.19L298.95 157.19ZM320.2 157.54L326.38 168.24L314.02 168.24ZM335.27 168.64L341.45 179.34L329.1 179.34ZM350.35 173.24L356.53 183.94L344.17 183.94ZM365.43 182.34L371.6 193.04L359.25 193.04ZM380.5 216.84L386.68 227.54L374.32 227.54Z" fill="#E8C28B"/>
<rect x="29.38" y="26.22" width="8.8" height="8.8" fill="#AFAFAF"/>
<rect x="44.45" y="31.87" width="8.8" height="8.8" fill="#AFAFAF"/>
<rect x="59.52" y="46.87" width="8.8" height="8.8" fill="#AFAFAF"/>
<rect x="74.6" y="61.87" width="8.8" height="8.8" fill="#AFAFAF"/>
<rect x="89.67" y="69.37" width="8.8" height="8.8" fill="#AFAFAF"/>
<rect x="104.75" y="74.37" width="8.8" height="8.8" fill="#AFAFAF"/>
<rect x="119.83" y="79.97" width="8.8" height="8.8" fill="#AFAFAF"/>
<rect x="134.9" y="86.22" width="8.8" height="8.8" fill="#AFAFAF"/>
<rect x="149.97" y="91.87" width="8.8" height="8.8" fill="#AFAFAF"/>
<rect x="165.05" y="103.72" width="8.8" height="8.8" fill="#AFAFAF"/>
<rect x="180.12" y="109.37" width="8.8" height="8.8" fill="#AFAFAF"/>
<rect x="195.2" y="117.9" width="8.8" height="8.8" fill="#AFAFAF"/>
<rect x="210.27" y="123.47" width="8.8" height="8.8" fill="#AFAFAF"/>
<rect x="225.35" y="128.67" width="8.8" height="8.8" fill="#AFAFAF"/>
<rect x="240.42" y="130.57" width="8.8" height="8.8" fill="#AFAFAF"/>
<rect x="255.5" y="127.97" width="8.8" height="8.8" fill="#AFAFAF"/>
<rect x="270.58" y="132.57" width="8.8" height="8.8" fill="#AFAFAF"/>
<rect x="285.65" y="140.97" width="8.8" height="8.8" fill="#AFAFAF"/>
<rect x="300.73" y="146.22" width="8.8" height="8.8" fill="#AFAFAF"/>
<rect x="315.8" y="154.67" width="8.8" height="8.8" fill="#AFAFAF"/>
<rect x="330.88" y="161.17" width="8.8" height="8.8" fill="#AFAFAF"/>
<rect x="345.95" y="170.97" width="8.8" height="8.8" fill="#AFAFAF"/>
<rect x="361.03" y="175.57" width="8.8" height="8.8" fill="#AFAFAF"/>
<rect x="376.1" y="200.27" width="8.8" height="8.8" fill="#AFAFAF"/>
<line x1="0" x2="420.2" y1="122.3" y2="122.3" stroke="#7a7a7a" stroke-width="1.5" stroke-dasharray="5.3 4.6" stroke-dashoffset="1"/>
<line x1="199.6" x2="199.6" y1="0" y2="321.1" stroke="#747474" stroke-width="1.5" stroke-dasharray="5 4.9"/>
<line x1="0" y1="0" x2="420.2" y2="0" stroke="#7a7a7a" stroke-width="1.4"/>
<line x1="420.2" y1="0" x2="420.2" y2="321.1" stroke="#7a7a7a" stroke-width="1.4"/>
<line x1="0" y1="0" x2="0" y2="321.1" stroke="#bdbdbd" stroke-width="1.6"/>
<line x1="-0.8" y1="321.1" x2="420.9" y2="321.1" stroke="#333" stroke-width="1.5"/>
<line x1="0" x2="3.8" y1="46.67" y2="46.67" stroke="#444" stroke-width="1.4"/>
<line x1="0" x2="3.8" y1="89.73" y2="89.73" stroke="#444" stroke-width="1.4"/>
<line x1="0" x2="3.8" y1="122.3" y2="122.3" stroke="#444" stroke-width="1.4"/>
<line x1="0" x2="3.8" y1="197.93" y2="197.93" stroke="#444" stroke-width="1.4"/>
<line x1="0" x2="3.8" y1="230.5" y2="230.5" stroke="#444" stroke-width="1.4"/>
<line x1="18.7" x2="18.7" y1="321.1" y2="317.1" stroke="#444" stroke-width="1.4"/>
<line x1="109.15" x2="109.15" y1="321.1" y2="317.1" stroke="#444" stroke-width="1.4"/>
<line x1="199.6" x2="199.6" y1="321.1" y2="317.1" stroke="#444" stroke-width="1.4"/>
<line x1="290.05" x2="290.05" y1="321.1" y2="317.1" stroke="#444" stroke-width="1.4"/>
<line x1="380.5" x2="380.5" y1="321.1" y2="317.1" stroke="#444" stroke-width="1.4"/>
<text x="-3.8" y="58.37" text-anchor="end" font-size="32.5" fill="#4D4D4D">5.0</text>
<text x="-3.8" y="101.43" text-anchor="end" font-size="32.5" fill="#4D4D4D">2.0</text>
<text x="-3.8" y="134" text-anchor="end" font-size="32.5" fill="#4D4D4D">1.0</text>
<text x="-3.8" y="209.63" text-anchor="end" font-size="32.5" fill="#4D4D4D">0.2</text>
<text x="-3.8" y="242.2" text-anchor="end" font-size="32.5" fill="#4D4D4D">0.1</text>
<text x="18.7" y="349.5" text-anchor="middle" font-size="32.5" fill="#4D4D4D">1897</text>
<text x="109.15" y="349.5" text-anchor="middle" font-size="32.5" fill="#4D4D4D">1927</text>
<text x="199.6" y="349.5" text-anchor="middle" font-size="32.5" fill="#4D4D4D">1957</text>
<text x="290.05" y="349.5" text-anchor="middle" font-size="32.5" fill="#4D4D4D">1987</text>
<text x="380.5" y="349.5" text-anchor="middle" font-size="32.5" fill="#4D4D4D">2017</text>
<text x="210.1" y="-17.6" text-anchor="middle" font-size="40" fill="#000">Russian Federation</text>
<text x="210.1" y="390.1" text-anchor="middle" font-size="39.5" fill="#000">Cohort</text>
</g>
<g transform="translate(1107.7 515.6)">
<line x1="0" x2="420.2" y1="14.1" y2="14.1" stroke="#F3F3F3" stroke-width="1.3"/>
<line x1="0" x2="420.2" y1="30.39" y2="30.39" stroke="#F3F3F3" stroke-width="1.3"/>
<line x1="0" x2="420.2" y1="46.67" y2="46.67" stroke="#F3F3F3" stroke-width="1.3"/>
<line x1="0" x2="420.2" y1="68.2" y2="68.2" stroke="#F3F3F3" stroke-width="1.3"/>
<line x1="0" x2="420.2" y1="89.73" y2="89.73" stroke="#F3F3F3" stroke-width="1.3"/>
<line x1="0" x2="420.2" y1="106.01" y2="106.01" stroke="#F3F3F3" stroke-width="1.3"/>
<line x1="0" x2="420.2" y1="122.3" y2="122.3" stroke="#F3F3F3" stroke-width="1.3"/>
<line x1="0" x2="420.2" y1="160.11" y2="160.11" stroke="#F3F3F3" stroke-width="1.3"/>
<line x1="0" x2="420.2" y1="197.93" y2="197.93" stroke="#F3F3F3" stroke-width="1.3"/>
<line x1="0" x2="420.2" y1="214.21" y2="214.21" stroke="#F3F3F3" stroke-width="1.3"/>
<line x1="0" x2="420.2" y1="230.5" y2="230.5" stroke="#F3F3F3" stroke-width="1.3"/>
<line x1="0" x2="420.2" y1="246.79" y2="246.79" stroke="#F3F3F3" stroke-width="1.3"/>
<line x1="0" x2="420.2" y1="263.07" y2="263.07" stroke="#F3F3F3" stroke-width="1.3"/>
<line x1="63.92" x2="63.92" y1="0" y2="321.1" stroke="#F3F3F3" stroke-width="1.3"/>
<line x1="154.38" x2="154.38" y1="0" y2="321.1" stroke="#F3F3F3" stroke-width="1.3"/>
<line x1="244.82" x2="244.82" y1="0" y2="321.1" stroke="#F3F3F3" stroke-width="1.3"/>
<line x1="335.27" x2="335.27" y1="0" y2="321.1" stroke="#F3F3F3" stroke-width="1.3"/>
<line x1="0" x2="420.2" y1="46.67" y2="46.67" stroke="#EFEFEF" stroke-width="1.5"/>
<line x1="0" x2="420.2" y1="89.73" y2="89.73" stroke="#EFEFEF" stroke-width="1.5"/>
<line x1="0" x2="420.2" y1="122.3" y2="122.3" stroke="#EFEFEF" stroke-width="1.5"/>
<line x1="0" x2="420.2" y1="197.93" y2="197.93" stroke="#EFEFEF" stroke-width="1.5"/>
<line x1="0" x2="420.2" y1="230.5" y2="230.5" stroke="#EFEFEF" stroke-width="1.5"/>
<line x1="18.7" x2="18.7" y1="0" y2="321.1" stroke="#EFEFEF" stroke-width="1.5"/>
<line x1="109.15" x2="109.15" y1="0" y2="321.1" stroke="#EFEFEF" stroke-width="1.5"/>
<line x1="199.6" x2="199.6" y1="0" y2="321.1" stroke="#EFEFEF" stroke-width="1.5"/>
<line x1="290.05" x2="290.05" y1="0" y2="321.1" stroke="#EFEFEF" stroke-width="1.5"/>
<line x1="380.5" x2="380.5" y1="0" y2="321.1" stroke="#EFEFEF" stroke-width="1.5"/>
<ellipse cx="-54" cy="160.75" rx="0.7" ry="1.3" fill="#9a9a9a"/>
<path d="M33.77 115.37L48.85 115.87L63.92 118.07L79 118.87L94.08 117.37L109.15 117.37L124.23 116.47L139.3 116.97L154.38 116.37L169.45 118.87L184.53 119.07L199.6 122.3L214.67 124.57L229.75 125.87L244.82 128.47L259.9 138.27L274.98 152.57L290.05 164.37L305.12 168.17L320.2 182.57L335.27 200.17L350.35 205.37L365.43 201.47L380.5 202.77" fill="none" stroke="#75ACD6" stroke-width="4.9" stroke-linejoin="round" stroke-linecap="butt"/>
<path d="M33.77 113.37L48.85 115.17L63.92 115.47L79 116.47L94.08 115.87L109.15 116.47L124.23 114.17L139.3 116.47L154.38 116.47L169.45 120.37L184.53 120.77L199.6 122.3L214.67 119.27L229.75 117.97L244.82 121.87L259.9 132.97L274.98 151.17L290.05 164.87L305.12 171.87L320.2 188.17L335.27 208.57L350.35 214.37L365.43 210.47L380.5 211.77" fill="none" stroke="#E8C28B" stroke-width="4.9" stroke-linejoin="round" stroke-linecap="butt"/>
<path d="M33.77 113.12L48.85 116.62L63.92 120.62L79 121.27L94.08 118.77L109.15 118.12L124.23 118.77L139.3 117.47L154.38 116.27L169.45 117.47L184.53 117.47L199.6 122.3L214.67 127.17L229.75 131.77L244.82 133.67L259.9 142.77L274.98 156.47L290.05 164.57L305.12 166.27L320.2 177.97L335.27 196.87L350.35 204.07L365.43 195.57L380.5 196.87" fill="none" stroke="#AFAFAF" stroke-width="4.9" stroke-linejoin="round" stroke-linecap="butt"/>
<circle cx="33.77" cy="115.37" r="4.75" fill="#75ACD6"/>
<circle cx="48.85" cy="115.87" r="4.75" fill="#75ACD6"/>
<circle cx="63.92" cy="118.07" r="4.75" fill="#75ACD6"/>
<circle cx="79" cy="118.87" r="4.75" fill="#75ACD6"/>
<circle cx="94.08" cy="117.37" r="4.75" fill="#75ACD6"/>
<circle cx="109.15" cy="117.37" r="4.75" fill="#75ACD6"/>
<circle cx="124.23" cy="116.47" r="4.75" fill="#75ACD6"/>
<circle cx="139.3" cy="116.97" r="4.75" fill="#75ACD6"/>
<circle cx="154.38" cy="116.37" r="4.75" fill="#75ACD6"/>
<circle cx="169.45" cy="118.87" r="4.75" fill="#75ACD6"/>
<circle cx="184.53" cy="119.07" r="4.75" fill="#75ACD6"/>
<circle cx="199.6" cy="122.3" r="4.75" fill="#75ACD6"/>
<circle cx="214.67" cy="124.57" r="4.75" fill="#75ACD6"/>
<circle cx="229.75" cy="125.87" r="4.75" fill="#75ACD6"/>
<circle cx="244.82" cy="128.47" r="4.75" fill="#75ACD6"/>
<circle cx="259.9" cy="138.27" r="4.75" fill="#75ACD6"/>
<circle cx="274.98" cy="152.57" r="4.75" fill="#75ACD6"/>
<circle cx="290.05" cy="164.37" r="4.75" fill="#75ACD6"/>
<circle cx="305.12" cy="168.17" r="4.75" fill="#75ACD6"/>
<circle cx="320.2" cy="182.57" r="4.75" fill="#75ACD6"/>
<circle cx="335.27" cy="200.17" r="4.75" fill="#75ACD6"/>
<circle cx="350.35" cy="205.37" r="4.75" fill="#75ACD6"/>
<circle cx="365.43" cy="201.47" r="4.75" fill="#75ACD6"/>
<circle cx="380.5" cy="202.77" r="4.75" fill="#75ACD6"/>
<path d="M33.77 106.24L39.95 116.94L27.6 116.94ZM48.85 108.04L55.03 118.74L42.67 118.74ZM63.92 108.34L70.1 119.04L57.75 119.04ZM79 109.34L85.18 120.04L72.82 120.04ZM94.08 108.74L100.25 119.44L87.9 119.44ZM109.15 109.34L115.33 120.04L102.97 120.04ZM124.23 107.04L130.4 117.74L118.05 117.74ZM139.3 109.34L145.48 120.04L133.12 120.04ZM154.38 109.34L160.55 120.04L148.2 120.04ZM169.45 113.24L175.63 123.94L163.27 123.94ZM184.53 113.64L190.7 124.34L178.35 124.34ZM199.6 115.17L205.78 125.87L193.42 125.87ZM214.67 112.14L220.85 122.84L208.5 122.84ZM229.75 110.84L235.93 121.54L223.57 121.54ZM244.82 114.74L251 125.44L238.65 125.44ZM259.9 125.84L266.08 136.54L253.72 136.54ZM274.98 144.04L281.15 154.74L268.8 154.74ZM290.05 157.74L296.23 168.44L283.87 168.44ZM305.12 164.74L311.3 175.44L298.95 175.44ZM320.2 181.04L326.38 191.74L314.02 191.74ZM335.27 201.44L341.45 212.14L329.1 212.14ZM350.35 207.24L356.53 217.94L344.17 217.94ZM365.43 203.34L371.6 214.04L359.25 214.04ZM380.5 204.64L386.68 215.34L374.32 215.34Z" fill="#E8C28B"/>
<rect x="29.38" y="108.72" width="8.8" height="8.8" fill="#AFAFAF"/>
<rect x="44.45" y="112.22" width="8.8" height="8.8" fill="#AFAFAF"/>
<rect x="59.52" y="116.22" width="8.8" height="8.8" fill="#AFAFAF"/>
<rect x="74.6" y="116.87" width="8.8" height="8.8" fill="#AFAFAF"/>
<rect x="89.67" y="114.37" width="8.8" height="8.8" fill="#AFAFAF"/>
<rect x="104.75" y="113.72" width="8.8" height="8.8" fill="#AFAFAF"/>
<rect x="119.83" y="114.37" width="8.8" height="8.8" fill="#AFAFAF"/>
<rect x="134.9" y="113.07" width="8.8" height="8.8" fill="#AFAFAF"/>
<rect x="149.97" y="111.87" width="8.8" height="8.8" fill="#AFAFAF"/>
<rect x="165.05" y="113.07" width="8.8" height="8.8" fill="#AFAFAF"/>
<rect x="180.12" y="113.07" width="8.8" height="8.8" fill="#AFAFAF"/>
<rect x="195.2" y="117.9" width="8.8" height="8.8" fill="#AFAFAF"/>
<rect x="210.27" y="122.77" width="8.8" height="8.8" fill="#AFAFAF"/>
<rect x="225.35" y="127.37" width="8.8" height="8.8" fill="#AFAFAF"/>
<rect x="240.42" y="129.27" width="8.8" height="8.8" fill="#AFAFAF"/>
<rect x="255.5" y="138.37" width="8.8" height="8.8" fill="#AFAFAF"/>
<rect x="270.58" y="152.07" width="8.8" height="8.8" fill="#AFAFAF"/>
<rect x="285.65" y="160.17" width="8.8" height="8.8" fill="#AFAFAF"/>
<rect x="300.73" y="161.87" width="8.8" height="8.8" fill="#AFAFAF"/>
<rect x="315.8" y="173.57" width="8.8" height="8.8" fill="#AFAFAF"/>
<rect x="330.88" y="192.47" width="8.8" height="8.8" fill="#AFAFAF"/>
<rect x="345.95" y="199.67" width="8.8" height="8.8" fill="#AFAFAF"/>
<rect x="361.03" y="191.17" width="8.8" height="8.8" fill="#AFAFAF"/>
<rect x="376.1" y="192.47" width="8.8" height="8.8" fill="#AFAFAF"/>
<line x1="0" x2="420.2" y1="122.3" y2="122.3" stroke="#7a7a7a" stroke-width="1.5" stroke-dasharray="5.3 4.6" stroke-dashoffset="1"/>
<line x1="199.6" x2="199.6" y1="0" y2="321.1" stroke="#747474" stroke-width="1.5" stroke-dasharray="5 4.9"/>
<line x1="0" y1="0" x2="420.2" y2="0" stroke="#7a7a7a" stroke-width="1.4"/>
<line x1="420.2" y1="0" x2="420.2" y2="321.1" stroke="#7a7a7a" stroke-width="1.4"/>
<line x1="0" y1="0" x2="0" y2="321.1" stroke="#bdbdbd" stroke-width="1.6"/>
<line x1="-0.8" y1="321.1" x2="420.9" y2="321.1" stroke="#333" stroke-width="1.5"/>
<line x1="0" x2="3.8" y1="46.67" y2="46.67" stroke="#444" stroke-width="1.4"/>
<line x1="0" x2="3.8" y1="89.73" y2="89.73" stroke="#444" stroke-width="1.4"/>
<line x1="0" x2="3.8" y1="122.3" y2="122.3" stroke="#444" stroke-width="1.4"/>
<line x1="0" x2="3.8" y1="197.93" y2="197.93" stroke="#444" stroke-width="1.4"/>
<line x1="0" x2="3.8" y1="230.5" y2="230.5" stroke="#444" stroke-width="1.4"/>
<line x1="18.7" x2="18.7" y1="321.1" y2="317.1" stroke="#444" stroke-width="1.4"/>
<line x1="109.15" x2="109.15" y1="321.1" y2="317.1" stroke="#444" stroke-width="1.4"/>
<line x1="199.6" x2="199.6" y1="321.1" y2="317.1" stroke="#444" stroke-width="1.4"/>
<line x1="290.05" x2="290.05" y1="321.1" y2="317.1" stroke="#444" stroke-width="1.4"/>
<line x1="380.5" x2="380.5" y1="321.1" y2="317.1" stroke="#444" stroke-width="1.4"/>
<text x="-3.8" y="58.37" text-anchor="end" font-size="32.5" fill="#4D4D4D">5.0</text>
<text x="-3.8" y="101.43" text-anchor="end" font-size="32.5" fill="#4D4D4D">2.0</text>
<text x="-3.8" y="134" text-anchor="end" font-size="32.5" fill="#4D4D4D">1.0</text>
<text x="-3.8" y="209.63" text-anchor="end" font-size="32.5" fill="#4D4D4D">0.2</text>
<text x="-3.8" y="242.2" text-anchor="end" font-size="32.5" fill="#4D4D4D">0.1</text>
<text x="18.7" y="349.5" text-anchor="middle" font-size="32.5" fill="#4D4D4D">1897</text>
<text x="109.15" y="349.5" text-anchor="middle" font-size="32.5" fill="#4D4D4D">1927</text>
<text x="199.6" y="349.5" text-anchor="middle" font-size="32.5" fill="#4D4D4D">1957</text>
<text x="290.05" y="349.5" text-anchor="middle" font-size="32.5" fill="#4D4D4D">1987</text>
<text x="380.5" y="349.5" text-anchor="middle" font-size="32.5" fill="#4D4D4D">2017</text>
<text x="210.1" y="-17.6" text-anchor="middle" font-size="40" fill="#000">South africa</text>
<text x="210.1" y="390.1" text-anchor="middle" font-size="39.5" fill="#000">Cohort</text>
</g>
<g transform="translate(119.5 978.9)">
<line x1="0" x2="420.2" y1="14.1" y2="14.1" stroke="#F3F3F3" stroke-width="1.3"/>
<line x1="0" x2="420.2" y1="30.39" y2="30.39" stroke="#F3F3F3" stroke-width="1.3"/>
<line x1="0" x2="420.2" y1="46.67" y2="46.67" stroke="#F3F3F3" stroke-width="1.3"/>
<line x1="0" x2="420.2" y1="68.2" y2="68.2" stroke="#F3F3F3" stroke-width="1.3"/>
<line x1="0" x2="420.2" y1="89.73" y2="89.73" stroke="#F3F3F3" stroke-width="1.3"/>
<line x1="0" x2="420.2" y1="106.01" y2="106.01" stroke="#F3F3F3" stroke-width="1.3"/>
<line x1="0" x2="420.2" y1="122.3" y2="122.3" stroke="#F3F3F3" stroke-width="1.3"/>
<line x1="0" x2="420.2" y1="160.11" y2="160.11" stroke="#F3F3F3" stroke-width="1.3"/>
<line x1="0" x2="420.2" y1="197.93" y2="197.93" stroke="#F3F3F3" stroke-width="1.3"/>
<line x1="0" x2="420.2" y1="214.21" y2="214.21" stroke="#F3F3F3" stroke-width="1.3"/>
<line x1="0" x2="420.2" y1="230.5" y2="230.5" stroke="#F3F3F3" stroke-width="1.3"/>
<line x1="0" x2="420.2" y1="246.79" y2="246.79" stroke="#F3F3F3" stroke-width="1.3"/>
<line x1="0" x2="420.2" y1="263.07" y2="263.07" stroke="#F3F3F3" stroke-width="1.3"/>
<line x1="63.92" x2="63.92" y1="0" y2="321.1" stroke="#F3F3F3" stroke-width="1.3"/>
<line x1="154.38" x2="154.38" y1="0" y2="321.1" stroke="#F3F3F3" stroke-width="1.3"/>
<line x1="244.82" x2="244.82" y1="0" y2="321.1" stroke="#F3F3F3" stroke-width="1.3"/>
<line x1="335.27" x2="335.27" y1="0" y2="321.1" stroke="#F3F3F3" stroke-width="1.3"/>
<line x1="0" x2="420.2" y1="46.67" y2="46.67" stroke="#EFEFEF" stroke-width="1.5"/>
<line x1="0" x2="420.2" y1="89.73" y2="89.73" stroke="#EFEFEF" stroke-width="1.5"/>
<line x1="0" x2="420.2" y1="122.3" y2="122.3" stroke="#EFEFEF" stroke-width="1.5"/>
<line x1="0" x2="420.2" y1="197.93" y2="197.93" stroke="#EFEFEF" stroke-width="1.5"/>
<line x1="0" x2="420.2" y1="230.5" y2="230.5" stroke="#EFEFEF" stroke-width="1.5"/>
<line x1="18.7" x2="18.7" y1="0" y2="321.1" stroke="#EFEFEF" stroke-width="1.5"/>
<line x1="109.15" x2="109.15" y1="0" y2="321.1" stroke="#EFEFEF" stroke-width="1.5"/>
<line x1="199.6" x2="199.6" y1="0" y2="321.1" stroke="#EFEFEF" stroke-width="1.5"/>
<line x1="290.05" x2="290.05" y1="0" y2="321.1" stroke="#EFEFEF" stroke-width="1.5"/>
<line x1="380.5" x2="380.5" y1="0" y2="321.1" stroke="#EFEFEF" stroke-width="1.5"/>
<ellipse cx="-54" cy="160.75" rx="0.7" ry="1.3" fill="#9a9a9a"/>
<path d="M33.77 58.03L48.85 62.03L63.92 66.83L79 73.73L94.08 79.63L109.15 85.83L124.23 92.43L139.3 100.03L154.38 107.03L169.45 113.23L184.53 118.03L199.6 122.3L214.67 126.23L229.75 127.53L244.82 128.83L259.9 130.13L274.98 130.78L290.05 133.43L305.12 135.33L320.2 154.23L335.27 177.03L350.35 207.03L365.43 236.33L380.5 263.73" fill="none" stroke="#75ACD6" stroke-width="4.9" stroke-linejoin="round" stroke-linecap="butt"/>
<path d="M33.77 59.93L48.85 63.28L63.92 67.13L79 73.33L94.08 79.33L109.15 85.63L124.23 91.63L139.3 99.13L154.38 105.63L169.45 112.43L184.53 117.43L199.6 122.3L214.67 126.63L229.75 129.83L244.82 133.78L259.9 137.73L274.98 142.93L290.05 148.73L305.12 153.93L320.2 175.43L335.27 195.03L350.35 226.33L365.43 257.53L380.5 285.53" fill="none" stroke="#E8C28B" stroke-width="4.9" stroke-linejoin="round" stroke-linecap="butt"/>
<path d="M33.77 56.03L48.85 60.63L63.92 66.63L79 74.13L94.08 80.03L109.15 86.03L124.23 93.28L139.3 101.03L154.38 108.53L169.45 114.13L184.53 118.53L199.6 122.3L214.67 124.23L229.75 124.23L244.82 123.63L259.9 122.33L274.98 121.43L290.05 121.63L305.12 122.33L320.2 139.93L335.27 163.33L350.35 194.03L365.43 222.03L380.5 248.73" fill="none" stroke="#AFAFAF" stroke-width="4.9" stroke-linejoin="round" stroke-linecap="butt"/>
<circle cx="33.77" cy="58.03" r="4.75" fill="#75ACD6"/>
<circle cx="48.85" cy="62.03" r="4.75" fill="#75ACD6"/>
<circle cx="63.92" cy="66.83" r="4.75" fill="#75ACD6"/>
<circle cx="79" cy="73.73" r="4.75" fill="#75ACD6"/>
<circle cx="94.08" cy="79.63" r="4.75" fill="#75ACD6"/>
<circle cx="109.15" cy="85.83" r="4.75" fill="#75ACD6"/>
<circle cx="124.23" cy="92.43" r="4.75" fill="#75ACD6"/>
<circle cx="139.3" cy="100.03" r="4.75" fill="#75ACD6"/>
<circle cx="154.38" cy="107.03" r="4.75" fill="#75ACD6"/>
<circle cx="169.45" cy="113.23" r="4.75" fill="#75ACD6"/>
<circle cx="184.53" cy="118.03" r="4.75" fill="#75ACD6"/>
<circle cx="199.6" cy="122.3" r="4.75" fill="#75ACD6"/>
<circle cx="214.67" cy="126.23" r="4.75" fill="#75ACD6"/>
<circle cx="229.75" cy="127.53" r="4.75" fill="#75ACD6"/>
<circle cx="244.82" cy="128.83" r="4.75" fill="#75ACD6"/>
<circle cx="259.9" cy="130.13" r="4.75" fill="#75ACD6"/>
<circle cx="274.98" cy="130.78" r="4.75" fill="#75ACD6"/>
<circle cx="290.05" cy="133.43" r="4.75" fill="#75ACD6"/>
<circle cx="305.12" cy="135.33" r="4.75" fill="#75ACD6"/>
<circle cx="320.2" cy="154.23" r="4.75" fill="#75ACD6"/>
<circle cx="335.27" cy="177.03" r="4.75" fill="#75ACD6"/>
<circle cx="350.35" cy="207.03" r="4.75" fill="#75ACD6"/>
<circle cx="365.43" cy="236.33" r="4.75" fill="#75ACD6"/>
<circle cx="380.5" cy="263.73" r="4.75" fill="#75ACD6"/>
<path d="M33.77 52.8L39.95 63.5L27.6 63.5ZM48.85 56.15L55.03 66.85L42.67 66.85ZM63.92 60L70.1 70.7L57.75 70.7ZM79 66.2L85.18 76.9L72.82 76.9ZM94.08 72.2L100.25 82.9L87.9 82.9ZM109.15 78.5L115.33 89.2L102.97 89.2ZM124.23 84.5L130.4 95.2L118.05 95.2ZM139.3 92L145.48 102.7L133.12 102.7ZM154.38 98.5L160.55 109.2L148.2 109.2ZM169.45 105.3L175.63 116L163.27 116ZM184.53 110.3L190.7 121L178.35 121ZM199.6 115.17L205.78 125.87L193.42 125.87ZM214.67 119.5L220.85 130.2L208.5 130.2ZM229.75 122.7L235.93 133.4L223.57 133.4ZM244.82 126.65L251 137.35L238.65 137.35ZM259.9 130.6L266.08 141.3L253.72 141.3ZM274.98 135.8L281.15 146.5L268.8 146.5ZM290.05 141.6L296.23 152.3L283.87 152.3ZM305.12 146.8L311.3 157.5L298.95 157.5ZM320.2 168.3L326.38 179L314.02 179ZM335.27 187.9L341.45 198.6L329.1 198.6ZM350.35 219.2L356.53 229.9L344.17 229.9ZM365.43 250.4L371.6 261.1L359.25 261.1ZM380.5 278.4L386.68 289.1L374.32 289.1Z" fill="#E8C28B"/>
<rect x="29.38" y="51.63" width="8.8" height="8.8" fill="#AFAFAF"/>
<rect x="44.45" y="56.23" width="8.8" height="8.8" fill="#AFAFAF"/>
<rect x="59.52" y="62.23" width="8.8" height="8.8" fill="#AFAFAF"/>
<rect x="74.6" y="69.73" width="8.8" height="8.8" fill="#AFAFAF"/>
<rect x="89.67" y="75.63" width="8.8" height="8.8" fill="#AFAFAF"/>
<rect x="104.75" y="81.63" width="8.8" height="8.8" fill="#AFAFAF"/>
<rect x="119.83" y="88.88" width="8.8" height="8.8" fill="#AFAFAF"/>
<rect x="134.9" y="96.63" width="8.8" height="8.8" fill="#AFAFAF"/>
<rect x="149.97" y="104.13" width="8.8" height="8.8" fill="#AFAFAF"/>
<rect x="165.05" y="109.73" width="8.8" height="8.8" fill="#AFAFAF"/>
<rect x="180.12" y="114.13" width="8.8" height="8.8" fill="#AFAFAF"/>
<rect x="195.2" y="117.9" width="8.8" height="8.8" fill="#AFAFAF"/>
<rect x="210.27" y="119.83" width="8.8" height="8.8" fill="#AFAFAF"/>
<rect x="225.35" y="119.83" width="8.8" height="8.8" fill="#AFAFAF"/>
<rect x="240.42" y="119.23" width="8.8" height="8.8" fill="#AFAFAF"/>
<rect x="255.5" y="117.93" width="8.8" height="8.8" fill="#AFAFAF"/>
<rect x="270.58" y="117.03" width="8.8" height="8.8" fill="#AFAFAF"/>
<rect x="285.65" y="117.23" width="8.8" height="8.8" fill="#AFAFAF"/>
<rect x="300.73" y="117.93" width="8.8" height="8.8" fill="#AFAFAF"/>
<rect x="315.8" y="135.53" width="8.8" height="8.8" fill="#AFAFAF"/>
<rect x="330.88" y="158.93" width="8.8" height="8.8" fill="#AFAFAF"/>
<rect x="345.95" y="189.63" width="8.8" height="8.8" fill="#AFAFAF"/>
<rect x="361.03" y="217.63" width="8.8" height="8.8" fill="#AFAFAF"/>
<rect x="376.1" y="244.33" width="8.8" height="8.8" fill="#AFAFAF"/>
<line x1="0" x2="420.2" y1="122.3" y2="122.3" stroke="#7a7a7a" stroke-width="1.5" stroke-dasharray="5.3 4.6" stroke-dashoffset="1"/>
<line x1="199.6" x2="199.6" y1="0" y2="321.1" stroke="#747474" stroke-width="1.5" stroke-dasharray="5 4.9"/>
<line x1="0" y1="0" x2="420.2" y2="0" stroke="#7a7a7a" stroke-width="1.4"/>
<line x1="420.2" y1="0" x2="420.2" y2="321.1" stroke="#7a7a7a" stroke-width="1.4"/>
<line x1="0" y1="0" x2="0" y2="321.1" stroke="#bdbdbd" stroke-width="1.6"/>
<line x1="-0.8" y1="321.1" x2="420.9" y2="321.1" stroke="#333" stroke-width="1.5"/>
<line x1="0" x2="3.8" y1="46.67" y2="46.67" stroke="#444" stroke-width="1.4"/>
<line x1="0" x2="3.8" y1="89.73" y2="89.73" stroke="#444" stroke-width="1.4"/>
<line x1="0" x2="3.8" y1="122.3" y2="122.3" stroke="#444" stroke-width="1.4"/>
<line x1="0" x2="3.8" y1="197.93" y2="197.93" stroke="#444" stroke-width="1.4"/>
<line x1="0" x2="3.8" y1="230.5" y2="230.5" stroke="#444" stroke-width="1.4"/>
<line x1="18.7" x2="18.7" y1="321.1" y2="317.1" stroke="#444" stroke-width="1.4"/>
<line x1="109.15" x2="109.15" y1="321.1" y2="317.1" stroke="#444" stroke-width="1.4"/>
<line x1="199.6" x2="199.6" y1="321.1" y2="317.1" stroke="#444" stroke-width="1.4"/>
<line x1="290.05" x2="290.05" y1="321.1" y2="317.1" stroke="#444" stroke-width="1.4"/>
<line x1="380.5" x2="380.5" y1="321.1" y2="317.1" stroke="#444" stroke-width="1.4"/>
<text x="-3.8" y="58.37" text-anchor="end" font-size="32.5" fill="#4D4D4D">5.0</text>
<text x="-3.8" y="101.43" text-anchor="end" font-size="32.5" fill="#4D4D4D">2.0</text>
<text x="-3.8" y="134" text-anchor="end" font-size="32.5" fill="#4D4D4D">1.0</text>
<text x="-3.8" y="209.63" text-anchor="end" font-size="32.5" fill="#4D4D4D">0.2</text>
<text x="-3.8" y="242.2" text-anchor="end" font-size="32.5" fill="#4D4D4D">0.1</text>
<text x="18.7" y="349.5" text-anchor="middle" font-size="32.5" fill="#4D4D4D">1897</text>
<text x="109.15" y="349.5" text-anchor="middle" font-size="32.5" fill="#4D4D4D">1927</text>
<text x="199.6" y="349.5" text-anchor="middle" font-size="32.5" fill="#4D4D4D">1957</text>
<text x="290.05" y="349.5" text-anchor="middle" font-size="32.5" fill="#4D4D4D">1987</text>
<text x="380.5" y="349.5" text-anchor="middle" font-size="32.5" fill="#4D4D4D">2017</text>
<text x="210.1" y="-17.6" text-anchor="middle" font-size="40" fill="#000">Saudi Arabia</text>
<text x="210.1" y="390.1" text-anchor="middle" font-size="39.5" fill="#000">Cohort</text>
</g>
<g transform="translate(613.5 978.9)">
<line x1="0" x2="420.2" y1="14.1" y2="14.1" stroke="#F3F3F3" stroke-width="1.3"/>
<line x1="0" x2="420.2" y1="30.39" y2="30.39" stroke="#F3F3F3" stroke-width="1.3"/>
<line x1="0" x2="420.2" y1="46.67" y2="46.67" stroke="#F3F3F3" stroke-width="1.3"/>
<line x1="0" x2="420.2" y1="68.2" y2="68.2" stroke="#F3F3F3" stroke-width="1.3"/>
<line x1="0" x2="420.2" y1="89.73" y2="89.73" stroke="#F3F3F3" stroke-width="1.3"/>
<line x1="0" x2="420.2" y1="106.01" y2="106.01" stroke="#F3F3F3" stroke-width="1.3"/>
<line x1="0" x2="420.2" y1="122.3" y2="122.3" stroke="#F3F3F3" stroke-width="1.3"/>
<line x1="0" x2="420.2" y1="160.11" y2="160.11" stroke="#F3F3F3" stroke-width="1.3"/>
<line x1="0" x2="420.2" y1="197.93" y2="197.93" stroke="#F3F3F3" stroke-width="1.3"/>
<line x1="0" x2="420.2" y1="214.21" y2="214.21" stroke="#F3F3F3" stroke-width="1.3"/>
<line x1="0" x2="420.2" y1="230.5" y2="230.5" stroke="#F3F3F3" stroke-width="1.3"/>
<line x1="0" x2="420.2" y1="246.79" y2="246.79" stroke="#F3F3F3" stroke-width="1.3"/>
<line x1="0" x2="420.2" y1="263.07" y2="263.07" stroke="#F3F3F3" stroke-width="1.3"/>
<line x1="63.92" x2="63.92" y1="0" y2="321.1" stroke="#F3F3F3" stroke-width="1.3"/>
<line x1="154.38" x2="154.38" y1="0" y2="321.1" stroke="#F3F3F3" stroke-width="1.3"/>
<line x1="244.82" x2="244.82" y1="0" y2="321.1" stroke="#F3F3F3" stroke-width="1.3"/>
<line x1="335.27" x2="335.27" y1="0" y2="321.1" stroke="#F3F3F3" stroke-width="1.3"/>
<line x1="0" x2="420.2" y1="46.67" y2="46.67" stroke="#EFEFEF" stroke-width="1.5"/>
<line x1="0" x2="420.2" y1="89.73" y2="89.73" stroke="#EFEFEF" stroke-width="1.5"/>
<line x1="0" x2="420.2" y1="122.3" y2="122.3" stroke="#EFEFEF" stroke-width="1.5"/>
<line x1="0" x2="420.2" y1="197.93" y2="197.93" stroke="#EFEFEF" stroke-width="1.5"/>
<line x1="0" x2="420.2" y1="230.5" y2="230.5" stroke="#EFEFEF" stroke-width="1.5"/>
<line x1="18.7" x2="18.7" y1="0" y2="321.1" stroke="#EFEFEF" stroke-width="1.5"/>
<line x1="109.15" x2="109.15" y1="0" y2="321.1" stroke="#EFEFEF" stroke-width="1.5"/>
<line x1="199.6" x2="199.6" y1="0" y2="321.1" stroke="#EFEFEF" stroke-width="1.5"/>
<line x1="290.05" x2="290.05" y1="0" y2="321.1" stroke="#EFEFEF" stroke-width="1.5"/>
<line x1="380.5" x2="380.5" y1="0" y2="321.1" stroke="#EFEFEF" stroke-width="1.5"/>
<ellipse cx="-54" cy="160.75" rx="0.7" ry="1.3" fill="#9a9a9a"/>
<path d="M33.77 45.03L48.85 58.53L63.92 66.63L79 70.43L94.08 72.28L109.15 79.78L124.23 84.13L139.3 96.03L154.38 106.63L169.45 109.13L184.53 112.93L199.6 122.3L214.67 130.03L229.75 141.03L244.82 150.53L259.9 154.53L274.98 157.53L290.05 162.03L305.12 169.83L320.2 189.43L335.27 210.23L350.35 231.13L365.43 259.13L380.5 274.13" fill="none" stroke="#75ACD6" stroke-width="4.9" stroke-linejoin="round" stroke-linecap="butt"/>
<path d="M33.77 87.53L48.85 89.33L63.92 83.13L79 76.23L94.08 83.13L109.15 86.83L124.23 87.63L139.3 97.03L154.38 106.23L169.45 107.53L184.53 113.13L199.6 122.3L214.67 130.03L229.75 139.83L244.82 147.63L259.9 153.53L274.98 158.03L290.05 166.33L305.12 180.83L320.2 203.03L335.27 219.93L350.35 242.13L365.43 272.13L380.5 288.53" fill="none" stroke="#E8C28B" stroke-width="4.9" stroke-linejoin="round" stroke-linecap="butt"/>
<path d="M33.77 31.28L48.85 40.43L63.92 53.53L79 64.13L94.08 64.13L109.15 73.78L124.23 84.13L139.3 96.63L154.38 108.53L169.45 111.03L184.53 113.53L199.6 122.3L214.67 129.53L229.75 142.53L244.82 152.28L259.9 155.53L274.98 157.53L290.05 159.43L305.12 166.63L320.2 183.53L335.27 204.43L350.35 225.93L365.43 251.33L380.5 266.33" fill="none" stroke="#AFAFAF" stroke-width="4.9" stroke-linejoin="round" stroke-linecap="butt"/>
<circle cx="33.77" cy="45.03" r="4.75" fill="#75ACD6"/>
<circle cx="48.85" cy="58.53" r="4.75" fill="#75ACD6"/>
<circle cx="63.92" cy="66.63" r="4.75" fill="#75ACD6"/>
<circle cx="79" cy="70.43" r="4.75" fill="#75ACD6"/>
<circle cx="94.08" cy="72.28" r="4.75" fill="#75ACD6"/>
<circle cx="109.15" cy="79.78" r="4.75" fill="#75ACD6"/>
<circle cx="124.23" cy="84.13" r="4.75" fill="#75ACD6"/>
<circle cx="139.3" cy="96.03" r="4.75" fill="#75ACD6"/>
<circle cx="154.38" cy="106.63" r="4.75" fill="#75ACD6"/>
<circle cx="169.45" cy="109.13" r="4.75" fill="#75ACD6"/>
<circle cx="184.53" cy="112.93" r="4.75" fill="#75ACD6"/>
<circle cx="199.6" cy="122.3" r="4.75" fill="#75ACD6"/>
<circle cx="214.67" cy="130.03" r="4.75" fill="#75ACD6"/>
<circle cx="229.75" cy="141.03" r="4.75" fill="#75ACD6"/>
<circle cx="244.82" cy="150.53" r="4.75" fill="#75ACD6"/>
<circle cx="259.9" cy="154.53" r="4.75" fill="#75ACD6"/>
<circle cx="274.98" cy="157.53" r="4.75" fill="#75ACD6"/>
<circle cx="290.05" cy="162.03" r="4.75" fill="#75ACD6"/>
<circle cx="305.12" cy="169.83" r="4.75" fill="#75ACD6"/>
<circle cx="320.2" cy="189.43" r="4.75" fill="#75ACD6"/>
<circle cx="335.27" cy="210.23" r="4.75" fill="#75ACD6"/>
<circle cx="350.35" cy="231.13" r="4.75" fill="#75ACD6"/>
<circle cx="365.43" cy="259.13" r="4.75" fill="#75ACD6"/>
<circle cx="380.5" cy="274.13" r="4.75" fill="#75ACD6"/>
<path d="M33.77 80.4L39.95 91.1L27.6 91.1ZM48.85 82.2L55.03 92.9L42.67 92.9ZM63.92 76L70.1 86.7L57.75 86.7ZM79 69.1L85.18 79.8L72.82 79.8ZM94.08 76L100.25 86.7L87.9 86.7ZM109.15 79.7L115.33 90.4L102.97 90.4ZM124.23 80.5L130.4 91.2L118.05 91.2ZM139.3 89.9L145.48 100.6L133.12 100.6ZM154.38 99.1L160.55 109.8L148.2 109.8ZM169.45 100.4L175.63 111.1L163.27 111.1ZM184.53 106L190.7 116.7L178.35 116.7ZM199.6 115.17L205.78 125.87L193.42 125.87ZM214.67 122.9L220.85 133.6L208.5 133.6ZM229.75 132.7L235.93 143.4L223.57 143.4ZM244.82 140.5L251 151.2L238.65 151.2ZM259.9 146.4L266.08 157.1L253.72 157.1ZM274.98 150.9L281.15 161.6L268.8 161.6ZM290.05 159.2L296.23 169.9L283.87 169.9ZM305.12 173.7L311.3 184.4L298.95 184.4ZM320.2 195.9L326.38 206.6L314.02 206.6ZM335.27 212.8L341.45 223.5L329.1 223.5ZM350.35 235L356.53 245.7L344.17 245.7ZM365.43 265L371.6 275.7L359.25 275.7ZM380.5 281.4L386.68 292.1L374.32 292.1Z" fill="#E8C28B"/>
<rect x="29.38" y="26.88" width="8.8" height="8.8" fill="#AFAFAF"/>
<rect x="44.45" y="36.03" width="8.8" height="8.8" fill="#AFAFAF"/>
<rect x="59.52" y="49.13" width="8.8" height="8.8" fill="#AFAFAF"/>
<rect x="74.6" y="59.73" width="8.8" height="8.8" fill="#AFAFAF"/>
<rect x="89.67" y="59.73" width="8.8" height="8.8" fill="#AFAFAF"/>
<rect x="104.75" y="69.38" width="8.8" height="8.8" fill="#AFAFAF"/>
<rect x="119.83" y="79.73" width="8.8" height="8.8" fill="#AFAFAF"/>
<rect x="134.9" y="92.23" width="8.8" height="8.8" fill="#AFAFAF"/>
<rect x="149.97" y="104.13" width="8.8" height="8.8" fill="#AFAFAF"/>
<rect x="165.05" y="106.63" width="8.8" height="8.8" fill="#AFAFAF"/>
<rect x="180.12" y="109.13" width="8.8" height="8.8" fill="#AFAFAF"/>
<rect x="195.2" y="117.9" width="8.8" height="8.8" fill="#AFAFAF"/>
<rect x="210.27" y="125.13" width="8.8" height="8.8" fill="#AFAFAF"/>
<rect x="225.35" y="138.13" width="8.8" height="8.8" fill="#AFAFAF"/>
<rect x="240.42" y="147.88" width="8.8" height="8.8" fill="#AFAFAF"/>
<rect x="255.5" y="151.13" width="8.8" height="8.8" fill="#AFAFAF"/>
<rect x="270.58" y="153.13" width="8.8" height="8.8" fill="#AFAFAF"/>
<rect x="285.65" y="155.03" width="8.8" height="8.8" fill="#AFAFAF"/>
<rect x="300.73" y="162.23" width="8.8" height="8.8" fill="#AFAFAF"/>
<rect x="315.8" y="179.13" width="8.8" height="8.8" fill="#AFAFAF"/>
<rect x="330.88" y="200.03" width="8.8" height="8.8" fill="#AFAFAF"/>
<rect x="345.95" y="221.53" width="8.8" height="8.8" fill="#AFAFAF"/>
<rect x="361.03" y="246.93" width="8.8" height="8.8" fill="#AFAFAF"/>
<rect x="376.1" y="261.93" width="8.8" height="8.8" fill="#AFAFAF"/>
<line x1="0" x2="420.2" y1="122.3" y2="122.3" stroke="#7a7a7a" stroke-width="1.5" stroke-dasharray="5.3 4.6" stroke-dashoffset="1"/>
<line x1="199.6" x2="199.6" y1="0" y2="321.1" stroke="#747474" stroke-width="1.5" stroke-dasharray="5 4.9"/>
<line x1="0" y1="0" x2="420.2" y2="0" stroke="#7a7a7a" stroke-width="1.4"/>
<line x1="420.2" y1="0" x2="420.2" y2="321.1" stroke="#7a7a7a" stroke-width="1.4"/>
<line x1="0" y1="0" x2="0" y2="321.1" stroke="#bdbdbd" stroke-width="1.6"/>
<line x1="-0.8" y1="321.1" x2="420.9" y2="321.1" stroke="#333" stroke-width="1.5"/>
<line x1="0" x2="3.8" y1="46.67" y2="46.67" stroke="#444" stroke-width="1.4"/>
<line x1="0" x2="3.8" y1="89.73" y2="89.73" stroke="#444" stroke-width="1.4"/>
<line x1="0" x2="3.8" y1="122.3" y2="122.3" stroke="#444" stroke-width="1.4"/>
<line x1="0" x2="3.8" y1="197.93" y2="197.93" stroke="#444" stroke-width="1.4"/>
<line x1="0" x2="3.8" y1="230.5" y2="230.5" stroke="#444" stroke-width="1.4"/>
<line x1="18.7" x2="18.7" y1="321.1" y2="317.1" stroke="#444" stroke-width="1.4"/>
<line x1="109.15" x2="109.15" y1="321.1" y2="317.1" stroke="#444" stroke-width="1.4"/>
<line x1="199.6" x2="199.6" y1="321.1" y2="317.1" stroke="#444" stroke-width="1.4"/>
<line x1="290.05" x2="290.05" y1="321.1" y2="317.1" stroke="#444" stroke-width="1.4"/>
<line x1="380.5" x2="380.5" y1="321.1" y2="317.1" stroke="#444" stroke-width="1.4"/>
<text x="-3.8" y="58.37" text-anchor="end" font-size="32.5" fill="#4D4D4D">5.0</text>
<text x="-3.8" y="101.43" text-anchor="end" font-size="32.5" fill="#4D4D4D">2.0</text>
<text x="-3.8" y="134" text-anchor="end" font-size="32.5" fill="#4D4D4D">1.0</text>
<text x="-3.8" y="209.63" text-anchor="end" font-size="32.5" fill="#4D4D4D">0.2</text>
<text x="-3.8" y="242.2" text-anchor="end" font-size="32.5" fill="#4D4D4D">0.1</text>
<text x="18.7" y="349.5" text-anchor="middle" font-size="32.5" fill="#4D4D4D">1897</text>
<text x="109.15" y="349.5" text-anchor="middle" font-size="32.5" fill="#4D4D4D">1927</text>
<text x="199.6" y="349.5" text-anchor="middle" font-size="32.5" fill="#4D4D4D">1957</text>
<text x="290.05" y="349.5" text-anchor="middle" font-size="32.5" fill="#4D4D4D">1987</text>
<text x="380.5" y="349.5" text-anchor="middle" font-size="32.5" fill="#4D4D4D">2017</text>
<text x="210.1" y="-17.6" text-anchor="middle" font-size="40" fill="#000">Egypt</text>
<text x="210.1" y="390.1" text-anchor="middle" font-size="39.5" fill="#000">Cohort</text>
</g>
<g transform="translate(1107.7 978.9)">
<line x1="0" x2="420.2" y1="14.1" y2="14.1" stroke="#F3F3F3" stroke-width="1.3"/>
<line x1="0" x2="420.2" y1="30.39" y2="30.39" stroke="#F3F3F3" stroke-width="1.3"/>
<line x1="0" x2="420.2" y1="46.67" y2="46.67" stroke="#F3F3F3" stroke-width="1.3"/>
<line x1="0" x2="420.2" y1="68.2" y2="68.2" stroke="#F3F3F3" stroke-width="1.3"/>
<line x1="0" x2="420.2" y1="89.73" y2="89.73" stroke="#F3F3F3" stroke-width="1.3"/>
<line x1="0" x2="420.2" y1="106.01" y2="106.01" stroke="#F3F3F3" stroke-width="1.3"/>
<line x1="0" x2="420.2" y1="122.3" y2="122.3" stroke="#F3F3F3" stroke-width="1.3"/>
<line x1="0" x2="420.2" y1="160.11" y2="160.11" stroke="#F3F3F3" stroke-width="1.3"/>
<line x1="0" x2="420.2" y1="197.93" y2="197.93" stroke="#F3F3F3" stroke-width="1.3"/>
<line x1="0" x2="420.2" y1="214.21" y2="214.21" stroke="#F3F3F3" stroke-width="1.3"/>
<line x1="0" x2="420.2" y1="230.5" y2="230.5" stroke="#F3F3F3" stroke-width="1.3"/>
<line x1="0" x2="420.2" y1="246.79" y2="246.79" stroke="#F3F3F3" stroke-width="1.3"/>
<line x1="0" x2="420.2" y1="263.07" y2="263.07" stroke="#F3F3F3" stroke-width="1.3"/>
<line x1="63.92" x2="63.92" y1="0" y2="321.1" stroke="#F3F3F3" stroke-width="1.3"/>
<line x1="154.38" x2="154.38" y1="0" y2="321.1" stroke="#F3F3F3" stroke-width="1.3"/>
<line x1="244.82" x2="244.82" y1="0" y2="321.1" stroke="#F3F3F3" stroke-width="1.3"/>
<line x1="335.27" x2="335.27" y1="0" y2="321.1" stroke="#F3F3F3" stroke-width="1.3"/>
<line x1="0" x2="420.2" y1="46.67" y2="46.67" stroke="#EFEFEF" stroke-width="1.5"/>
<line x1="0" x2="420.2" y1="89.73" y2="89.73" stroke="#EFEFEF" stroke-width="1.5"/>
<line x1="0" x2="420.2" y1="122.3" y2="122.3" stroke="#EFEFEF" stroke-width="1.5"/>
<line x1="0" x2="420.2" y1="197.93" y2="197.93" stroke="#EFEFEF" stroke-width="1.5"/>
<line x1="0" x2="420.2" y1="230.5" y2="230.5" stroke="#EFEFEF" stroke-width="1.5"/>
<line x1="18.7" x2="18.7" y1="0" y2="321.1" stroke="#EFEFEF" stroke-width="1.5"/>
<line x1="109.15" x2="109.15" y1="0" y2="321.1" stroke="#EFEFEF" stroke-width="1.5"/>
<line x1="199.6" x2="199.6" y1="0" y2="321.1" stroke="#EFEFEF" stroke-width="1.5"/>
<line x1="290.05" x2="290.05" y1="0" y2="321.1" stroke="#EFEFEF" stroke-width="1.5"/>
<line x1="380.5" x2="380.5" y1="0" y2="321.1" stroke="#EFEFEF" stroke-width="1.5"/>
<ellipse cx="-54" cy="160.75" rx="0.7" ry="1.3" fill="#9a9a9a"/>
<path d="M33.77 127.28L48.85 118.53L63.92 109.78L79 104.78L94.08 103.53L109.15 87.28L124.23 82.28L139.3 81.63L154.38 81.03L169.45 94.13L184.53 109.78L199.6 122.3L214.67 132.53L229.75 145.03L244.82 154.53L259.9 162.53L274.98 167.53L290.05 158.53L305.12 159.53L320.2 166.03L335.27 192.63L350.35 205.73L365.43 210.93L380.5 223.93" fill="none" stroke="#75ACD6" stroke-width="4.9" stroke-linejoin="round" stroke-linecap="butt"/>
<path d="M33.77 191.63L48.85 174.78L63.92 151.63L79 137.93L94.08 127.28L109.15 98.53L124.23 88.78L139.3 79.43L154.38 69.43L169.45 80.63L184.53 108.53L199.6 122.3L214.67 133.03L229.75 145.03L244.82 157.23L259.9 161.93L274.98 168.43L290.05 154.73L305.12 154.73L320.2 166.33L335.27 182.13L350.35 191.23L365.43 200.33L380.5 218.43" fill="none" stroke="#E8C28B" stroke-width="4.9" stroke-linejoin="round" stroke-linecap="butt"/>
<path d="M33.77 90.63L48.85 85.03L63.92 82.03L79 81.03L94.08 82.28L109.15 76.03L124.23 76.63L139.3 80.43L154.38 88.53L169.45 101.63L184.53 114.13L199.6 122.3L214.67 132.73L229.75 145.13L244.82 154.23L259.9 162.73L274.98 167.93L290.05 158.83L305.12 160.13L320.2 165.93L335.27 197.93L350.35 212.83L365.43 218.13L380.5 230.43" fill="none" stroke="#AFAFAF" stroke-width="4.9" stroke-linejoin="round" stroke-linecap="butt"/>
<circle cx="33.77" cy="127.28" r="4.75" fill="#75ACD6"/>
<circle cx="48.85" cy="118.53" r="4.75" fill="#75ACD6"/>
<circle cx="63.92" cy="109.78" r="4.75" fill="#75ACD6"/>
<circle cx="79" cy="104.78" r="4.75" fill="#75ACD6"/>
<circle cx="94.08" cy="103.53" r="4.75" fill="#75ACD6"/>
<circle cx="109.15" cy="87.28" r="4.75" fill="#75ACD6"/>
<circle cx="124.23" cy="82.28" r="4.75" fill="#75ACD6"/>
<circle cx="139.3" cy="81.63" r="4.75" fill="#75ACD6"/>
<circle cx="154.38" cy="81.03" r="4.75" fill="#75ACD6"/>
<circle cx="169.45" cy="94.13" r="4.75" fill="#75ACD6"/>
<circle cx="184.53" cy="109.78" r="4.75" fill="#75ACD6"/>
<circle cx="199.6" cy="122.3" r="4.75" fill="#75ACD6"/>
<circle cx="214.67" cy="132.53" r="4.75" fill="#75ACD6"/>
<circle cx="229.75" cy="145.03" r="4.75" fill="#75ACD6"/>
<circle cx="244.82" cy="154.53" r="4.75" fill="#75ACD6"/>
<circle cx="259.9" cy="162.53" r="4.75" fill="#75ACD6"/>
<circle cx="274.98" cy="167.53" r="4.75" fill="#75ACD6"/>
<circle cx="290.05" cy="158.53" r="4.75" fill="#75ACD6"/>
<circle cx="305.12" cy="159.53" r="4.75" fill="#75ACD6"/>
<circle cx="320.2" cy="166.03" r="4.75" fill="#75ACD6"/>
<circle cx="335.27" cy="192.63" r="4.75" fill="#75ACD6"/>
<circle cx="350.35" cy="205.73" r="4.75" fill="#75ACD6"/>
<circle cx="365.43" cy="210.93" r="4.75" fill="#75ACD6"/>
<circle cx="380.5" cy="223.93" r="4.75" fill="#75ACD6"/>
<path d="M33.77 184.5L39.95 195.2L27.6 195.2ZM48.85 167.65L55.03 178.35L42.67 178.35ZM63.92 144.5L70.1 155.2L57.75 155.2ZM79 130.8L85.18 141.5L72.82 141.5ZM94.08 120.15L100.25 130.85L87.9 130.85ZM109.15 91.4L115.33 102.1L102.97 102.1ZM124.23 81.65L130.4 92.35L118.05 92.35ZM139.3 72.3L145.48 83L133.12 83ZM154.38 62.3L160.55 73L148.2 73ZM169.45 73.5L175.63 84.2L163.27 84.2ZM184.53 101.4L190.7 112.1L178.35 112.1ZM199.6 115.17L205.78 125.87L193.42 125.87ZM214.67 125.9L220.85 136.6L208.5 136.6ZM229.75 137.9L235.93 148.6L223.57 148.6ZM244.82 150.1L251 160.8L238.65 160.8ZM259.9 154.8L266.08 165.5L253.72 165.5ZM274.98 161.3L281.15 172L268.8 172ZM290.05 147.6L296.23 158.3L283.87 158.3ZM305.12 147.6L311.3 158.3L298.95 158.3ZM320.2 159.2L326.38 169.9L314.02 169.9ZM335.27 175L341.45 185.7L329.1 185.7ZM350.35 184.1L356.53 194.8L344.17 194.8ZM365.43 193.2L371.6 203.9L359.25 203.9ZM380.5 211.3L386.68 222L374.32 222Z" fill="#E8C28B"/>
<rect x="29.38" y="86.23" width="8.8" height="8.8" fill="#AFAFAF"/>
<rect x="44.45" y="80.63" width="8.8" height="8.8" fill="#AFAFAF"/>
<rect x="59.52" y="77.63" width="8.8" height="8.8" fill="#AFAFAF"/>
<rect x="74.6" y="76.63" width="8.8" height="8.8" fill="#AFAFAF"/>
<rect x="89.67" y="77.88" width="8.8" height="8.8" fill="#AFAFAF"/>
<rect x="104.75" y="71.63" width="8.8" height="8.8" fill="#AFAFAF"/>
<rect x="119.83" y="72.23" width="8.8" height="8.8" fill="#AFAFAF"/>
<rect x="134.9" y="76.03" width="8.8" height="8.8" fill="#AFAFAF"/>
<rect x="149.97" y="84.13" width="8.8" height="8.8" fill="#AFAFAF"/>
<rect x="165.05" y="97.23" width="8.8" height="8.8" fill="#AFAFAF"/>
<rect x="180.12" y="109.73" width="8.8" height="8.8" fill="#AFAFAF"/>
<rect x="195.2" y="117.9" width="8.8" height="8.8" fill="#AFAFAF"/>
<rect x="210.27" y="128.33" width="8.8" height="8.8" fill="#AFAFAF"/>
<rect x="225.35" y="140.73" width="8.8" height="8.8" fill="#AFAFAF"/>
<rect x="240.42" y="149.83" width="8.8" height="8.8" fill="#AFAFAF"/>
<rect x="255.5" y="158.33" width="8.8" height="8.8" fill="#AFAFAF"/>
<rect x="270.58" y="163.53" width="8.8" height="8.8" fill="#AFAFAF"/>
<rect x="285.65" y="154.43" width="8.8" height="8.8" fill="#AFAFAF"/>
<rect x="300.73" y="155.73" width="8.8" height="8.8" fill="#AFAFAF"/>
<rect x="315.8" y="161.53" width="8.8" height="8.8" fill="#AFAFAF"/>
<rect x="330.88" y="193.53" width="8.8" height="8.8" fill="#AFAFAF"/>
<rect x="345.95" y="208.43" width="8.8" height="8.8" fill="#AFAFAF"/>
<rect x="361.03" y="213.73" width="8.8" height="8.8" fill="#AFAFAF"/>
<rect x="376.1" y="226.03" width="8.8" height="8.8" fill="#AFAFAF"/>
<line x1="0" x2="420.2" y1="122.3" y2="122.3" stroke="#7a7a7a" stroke-width="1.5" stroke-dasharray="5.3 4.6" stroke-dashoffset="1"/>
<line x1="199.6" x2="199.6" y1="0" y2="321.1" stroke="#747474" stroke-width="1.5" stroke-dasharray="5 4.9"/>
<line x1="0" y1="0" x2="420.2" y2="0" stroke="#7a7a7a" stroke-width="1.4"/>
<line x1="420.2" y1="0" x2="420.2" y2="321.1" stroke="#7a7a7a" stroke-width="1.4"/>
<line x1="0" y1="0" x2="0" y2="321.1" stroke="#bdbdbd" stroke-width="1.6"/>
<line x1="-0.8" y1="321.1" x2="420.9" y2="321.1" stroke="#333" stroke-width="1.5"/>
<line x1="0" x2="3.8" y1="46.67" y2="46.67" stroke="#444" stroke-width="1.4"/>
<line x1="0" x2="3.8" y1="89.73" y2="89.73" stroke="#444" stroke-width="1.4"/>
<line x1="0" x2="3.8" y1="122.3" y2="122.3" stroke="#444" stroke-width="1.4"/>
<line x1="0" x2="3.8" y1="197.93" y2="197.93" stroke="#444" stroke-width="1.4"/>
<line x1="0" x2="3.8" y1="230.5" y2="230.5" stroke="#444" stroke-width="1.4"/>
<line x1="18.7" x2="18.7" y1="321.1" y2="317.1" stroke="#444" stroke-width="1.4"/>
<line x1="109.15" x2="109.15" y1="321.1" y2="317.1" stroke="#444" stroke-width="1.4"/>
<line x1="199.6" x2="199.6" y1="321.1" y2="317.1" stroke="#444" stroke-width="1.4"/>
<line x1="290.05" x2="290.05" y1="321.1" y2="317.1" stroke="#444" stroke-width="1.4"/>
<line x1="380.5" x2="380.5" y1="321.1" y2="317.1" stroke="#444" stroke-width="1.4"/>
<text x="-3.8" y="58.37" text-anchor="end" font-size="32.5" fill="#4D4D4D">5.0</text>
<text x="-3.8" y="101.43" text-anchor="end" font-size="32.5" fill="#4D4D4D">2.0</text>
<text x="-3.8" y="134" text-anchor="end" font-size="32.5" fill="#4D4D4D">1.0</text>
<text x="-3.8" y="209.63" text-anchor="end" font-size="32.5" fill="#4D4D4D">0.2</text>
<text x="-3.8" y="242.2" text-anchor="end" font-size="32.5" fill="#4D4D4D">0.1</text>
<text x="18.7" y="349.5" text-anchor="middle" font-size="32.5" fill="#4D4D4D">1897</text>
<text x="109.15" y="349.5" text-anchor="middle" font-size="32.5" fill="#4D4D4D">1927</text>
<text x="199.6" y="349.5" text-anchor="middle" font-size="32.5" fill="#4D4D4D">1957</text>
<text x="290.05" y="349.5" text-anchor="middle" font-size="32.5" fill="#4D4D4D">1987</text>
<text x="380.5" y="349.5" text-anchor="middle" font-size="32.5" fill="#4D4D4D">2017</text>
<text x="210.1" y="-17.6" text-anchor="middle" font-size="40" fill="#000">United Arab Emirates</text>
<text x="210.1" y="390.1" text-anchor="middle" font-size="39.5" fill="#000">Cohort</text>
</g>
<g transform="translate(119.5 1442.3)">
<line x1="0" x2="420.2" y1="14.1" y2="14.1" stroke="#F3F3F3" stroke-width="1.3"/>
<line x1="0" x2="420.2" y1="30.39" y2="30.39" stroke="#F3F3F3" stroke-width="1.3"/>
<line x1="0" x2="420.2" y1="46.67" y2="46.67" stroke="#F3F3F3" stroke-width="1.3"/>
<line x1="0" x2="420.2" y1="68.2" y2="68.2" stroke="#F3F3F3" stroke-width="1.3"/>
<line x1="0" x2="420.2" y1="89.73" y2="89.73" stroke="#F3F3F3" stroke-width="1.3"/>
<line x1="0" x2="420.2" y1="106.01" y2="106.01" stroke="#F3F3F3" stroke-width="1.3"/>
<line x1="0" x2="420.2" y1="122.3" y2="122.3" stroke="#F3F3F3" stroke-width="1.3"/>
<line x1="0" x2="420.2" y1="160.11" y2="160.11" stroke="#F3F3F3" stroke-width="1.3"/>
<line x1="0" x2="420.2" y1="197.93" y2="197.93" stroke="#F3F3F3" stroke-width="1.3"/>
<line x1="0" x2="420.2" y1="214.21" y2="214.21" stroke="#F3F3F3" stroke-width="1.3"/>
<line x1="0" x2="420.2" y1="230.5" y2="230.5" stroke="#F3F3F3" stroke-width="1.3"/>
<line x1="0" x2="420.2" y1="246.79" y2="246.79" stroke="#F3F3F3" stroke-width="1.3"/>
<line x1="0" x2="420.2" y1="263.07" y2="263.07" stroke="#F3F3F3" stroke-width="1.3"/>
<line x1="63.92" x2="63.92" y1="0" y2="321.1" stroke="#F3F3F3" stroke-width="1.3"/>
<line x1="154.38" x2="154.38" y1="0" y2="321.1" stroke="#F3F3F3" stroke-width="1.3"/>
<line x1="244.82" x2="244.82" y1="0" y2="321.1" stroke="#F3F3F3" stroke-width="1.3"/>
<line x1="335.27" x2="335.27" y1="0" y2="321.1" stroke="#F3F3F3" stroke-width="1.3"/>
<line x1="0" x2="420.2" y1="46.67" y2="46.67" stroke="#EFEFEF" stroke-width="1.5"/>
<line x1="0" x2="420.2" y1="89.73" y2="89.73" stroke="#EFEFEF" stroke-width="1.5"/>
<line x1="0" x2="420.2" y1="122.3" y2="122.3" stroke="#EFEFEF" stroke-width="1.5"/>
<line x1="0" x2="420.2" y1="197.93" y2="197.93" stroke="#EFEFEF" stroke-width="1.5"/>
<line x1="0" x2="420.2" y1="230.5" y2="230.5" stroke="#EFEFEF" stroke-width="1.5"/>
<line x1="18.7" x2="18.7" y1="0" y2="321.1" stroke="#EFEFEF" stroke-width="1.5"/>
<line x1="109.15" x2="109.15" y1="0" y2="321.1" stroke="#EFEFEF" stroke-width="1.5"/>
<line x1="199.6" x2="199.6" y1="0" y2="321.1" stroke="#EFEFEF" stroke-width="1.5"/>
<line x1="290.05" x2="290.05" y1="0" y2="321.1" stroke="#EFEFEF" stroke-width="1.5"/>
<line x1="380.5" x2="380.5" y1="0" y2="321.1" stroke="#EFEFEF" stroke-width="1.5"/>
<ellipse cx="-54" cy="160.75" rx="0.7" ry="1.3" fill="#9a9a9a"/>
<path d="M33.77 59L48.85 63.4L63.92 69.7L79 73L94.08 76.7L109.15 82.2L124.23 88.4L139.3 94.1L154.38 100.9L169.45 108.1L184.53 115L199.6 122.3L214.67 128.5L229.75 134.4L244.82 139L259.9 142.9L274.98 145.5L290.05 146.8L305.12 142.9L320.2 151.3L335.27 161.8L350.35 174.2L365.43 198.9L380.5 247.8" fill="none" stroke="#75ACD6" stroke-width="4.9" stroke-linejoin="round" stroke-linecap="butt"/>
<path d="M33.77 58.5L48.85 62.3L63.92 68.5L79 71L94.08 74.8L109.15 80.4L124.23 86L139.3 91.7L154.38 98.5L169.45 106L184.53 113.5L199.6 122.3L214.67 129.6L229.75 138.1L244.82 145.9L259.9 151.7L274.98 156.3L290.05 160.9L305.12 160.2L320.2 171.3L335.27 181.7L350.35 194.1L365.43 220.1L380.5 271" fill="none" stroke="#E8C28B" stroke-width="4.9" stroke-linejoin="round" stroke-linecap="butt"/>
<path d="M33.77 59.6L48.85 64.6L63.92 70.8L79 74.95L94.08 78.7L109.15 83.95L124.23 90.8L139.3 96.45L154.38 103.3L169.45 110.2L184.53 116.45L199.6 122.3L214.67 127.2L229.75 131.8L244.82 135.1L259.9 136.4L274.98 137L290.05 137L305.12 133.1L320.2 139L335.27 150L350.35 161.8L365.43 185.2L380.5 230.8" fill="none" stroke="#AFAFAF" stroke-width="4.9" stroke-linejoin="round" stroke-linecap="butt"/>
<circle cx="33.77" cy="59" r="4.75" fill="#75ACD6"/>
<circle cx="48.85" cy="63.4" r="4.75" fill="#75ACD6"/>
<circle cx="63.92" cy="69.7" r="4.75" fill="#75ACD6"/>
<circle cx="79" cy="73" r="4.75" fill="#75ACD6"/>
<circle cx="94.08" cy="76.7" r="4.75" fill="#75ACD6"/>
<circle cx="109.15" cy="82.2" r="4.75" fill="#75ACD6"/>
<circle cx="124.23" cy="88.4" r="4.75" fill="#75ACD6"/>
<circle cx="139.3" cy="94.1" r="4.75" fill="#75ACD6"/>
<circle cx="154.38" cy="100.9" r="4.75" fill="#75ACD6"/>
<circle cx="169.45" cy="108.1" r="4.75" fill="#75ACD6"/>
<circle cx="184.53" cy="115" r="4.75" fill="#75ACD6"/>
<circle cx="199.6" cy="122.3" r="4.75" fill="#75ACD6"/>
<circle cx="214.67" cy="128.5" r="4.75" fill="#75ACD6"/>
<circle cx="229.75" cy="134.4" r="4.75" fill="#75ACD6"/>
<circle cx="244.82" cy="139" r="4.75" fill="#75ACD6"/>
<circle cx="259.9" cy="142.9" r="4.75" fill="#75ACD6"/>
<circle cx="274.98" cy="145.5" r="4.75" fill="#75ACD6"/>
<circle cx="290.05" cy="146.8" r="4.75" fill="#75ACD6"/>
<circle cx="305.12" cy="142.9" r="4.75" fill="#75ACD6"/>
<circle cx="320.2" cy="151.3" r="4.75" fill="#75ACD6"/>
<circle cx="335.27" cy="161.8" r="4.75" fill="#75ACD6"/>
<circle cx="350.35" cy="174.2" r="4.75" fill="#75ACD6"/>
<circle cx="365.43" cy="198.9" r="4.75" fill="#75ACD6"/>
<circle cx="380.5" cy="247.8" r="4.75" fill="#75ACD6"/>
<path d="M33.77 51.37L39.95 62.07L27.6 62.07ZM48.85 55.17L55.03 65.87L42.67 65.87ZM63.92 61.37L70.1 72.07L57.75 72.07ZM79 63.87L85.18 74.57L72.82 74.57ZM94.08 67.67L100.25 78.37L87.9 78.37ZM109.15 73.27L115.33 83.97L102.97 83.97ZM124.23 78.87L130.4 89.57L118.05 89.57ZM139.3 84.57L145.48 95.27L133.12 95.27ZM154.38 91.37L160.55 102.07L148.2 102.07ZM169.45 98.87L175.63 109.57L163.27 109.57ZM184.53 106.37L190.7 117.07L178.35 117.07ZM199.6 115.17L205.78 125.87L193.42 125.87ZM214.67 122.47L220.85 133.17L208.5 133.17ZM229.75 130.97L235.93 141.67L223.57 141.67ZM244.82 138.77L251 149.47L238.65 149.47ZM259.9 144.57L266.08 155.27L253.72 155.27ZM274.98 149.17L281.15 159.87L268.8 159.87ZM290.05 153.77L296.23 164.47L283.87 164.47ZM305.12 153.07L311.3 163.77L298.95 163.77ZM320.2 164.17L326.38 174.87L314.02 174.87ZM335.27 174.57L341.45 185.27L329.1 185.27ZM350.35 186.97L356.53 197.67L344.17 197.67ZM365.43 212.97L371.6 223.67L359.25 223.67ZM380.5 263.87L386.68 274.57L374.32 274.57Z" fill="#E8C28B"/>
<rect x="29.38" y="55.2" width="8.8" height="8.8" fill="#AFAFAF"/>
<rect x="44.45" y="60.2" width="8.8" height="8.8" fill="#AFAFAF"/>
<rect x="59.52" y="66.4" width="8.8" height="8.8" fill="#AFAFAF"/>
<rect x="74.6" y="70.55" width="8.8" height="8.8" fill="#AFAFAF"/>
<rect x="89.67" y="74.3" width="8.8" height="8.8" fill="#AFAFAF"/>
<rect x="104.75" y="79.55" width="8.8" height="8.8" fill="#AFAFAF"/>
<rect x="119.83" y="86.4" width="8.8" height="8.8" fill="#AFAFAF"/>
<rect x="134.9" y="92.05" width="8.8" height="8.8" fill="#AFAFAF"/>
<rect x="149.97" y="98.9" width="8.8" height="8.8" fill="#AFAFAF"/>
<rect x="165.05" y="105.8" width="8.8" height="8.8" fill="#AFAFAF"/>
<rect x="180.12" y="112.05" width="8.8" height="8.8" fill="#AFAFAF"/>
<rect x="195.2" y="117.9" width="8.8" height="8.8" fill="#AFAFAF"/>
<rect x="210.27" y="122.8" width="8.8" height="8.8" fill="#AFAFAF"/>
<rect x="225.35" y="127.4" width="8.8" height="8.8" fill="#AFAFAF"/>
<rect x="240.42" y="130.7" width="8.8" height="8.8" fill="#AFAFAF"/>
<rect x="255.5" y="132" width="8.8" height="8.8" fill="#AFAFAF"/>
<rect x="270.58" y="132.6" width="8.8" height="8.8" fill="#AFAFAF"/>
<rect x="285.65" y="132.6" width="8.8" height="8.8" fill="#AFAFAF"/>
<rect x="300.73" y="128.7" width="8.8" height="8.8" fill="#AFAFAF"/>
<rect x="315.8" y="134.6" width="8.8" height="8.8" fill="#AFAFAF"/>
<rect x="330.88" y="145.6" width="8.8" height="8.8" fill="#AFAFAF"/>
<rect x="345.95" y="157.4" width="8.8" height="8.8" fill="#AFAFAF"/>
<rect x="361.03" y="180.8" width="8.8" height="8.8" fill="#AFAFAF"/>
<rect x="376.1" y="226.4" width="8.8" height="8.8" fill="#AFAFAF"/>
<line x1="0" x2="420.2" y1="122.3" y2="122.3" stroke="#7a7a7a" stroke-width="1.5" stroke-dasharray="5.3 4.6" stroke-dashoffset="1"/>
<line x1="199.6" x2="199.6" y1="0" y2="321.1" stroke="#747474" stroke-width="1.5" stroke-dasharray="5 4.9"/>
<line x1="0" y1="0" x2="420.2" y2="0" stroke="#7a7a7a" stroke-width="1.4"/>
<line x1="420.2" y1="0" x2="420.2" y2="321.1" stroke="#7a7a7a" stroke-width="1.4"/>
<line x1="0" y1="0" x2="0" y2="321.1" stroke="#bdbdbd" stroke-width="1.6"/>
<line x1="-0.8" y1="321.1" x2="420.9" y2="321.1" stroke="#333" stroke-width="1.5"/>
<line x1="0" x2="3.8" y1="46.67" y2="46.67" stroke="#444" stroke-width="1.4"/>
<line x1="0" x2="3.8" y1="89.73" y2="89.73" stroke="#444" stroke-width="1.4"/>
<line x1="0" x2="3.8" y1="122.3" y2="122.3" stroke="#444" stroke-width="1.4"/>
<line x1="0" x2="3.8" y1="197.93" y2="197.93" stroke="#444" stroke-width="1.4"/>
<line x1="0" x2="3.8" y1="230.5" y2="230.5" stroke="#444" stroke-width="1.4"/>
<line x1="18.7" x2="18.7" y1="321.1" y2="317.1" stroke="#444" stroke-width="1.4"/>
<line x1="109.15" x2="109.15" y1="321.1" y2="317.1" stroke="#444" stroke-width="1.4"/>
<line x1="199.6" x2="199.6" y1="321.1" y2="317.1" stroke="#444" stroke-width="1.4"/>
<line x1="290.05" x2="290.05" y1="321.1" y2="317.1" stroke="#444" stroke-width="1.4"/>
<line x1="380.5" x2="380.5" y1="321.1" y2="317.1" stroke="#444" stroke-width="1.4"/>
<text x="-3.8" y="58.37" text-anchor="end" font-size="32.5" fill="#4D4D4D">5.0</text>
<text x="-3.8" y="101.43" text-anchor="end" font-size="32.5" fill="#4D4D4D">2.0</text>
<text x="-3.8" y="134" text-anchor="end" font-size="32.5" fill="#4D4D4D">1.0</text>
<text x="-3.8" y="209.63" text-anchor="end" font-size="32.5" fill="#4D4D4D">0.2</text>
<text x="-3.8" y="242.2" text-anchor="end" font-size="32.5" fill="#4D4D4D">0.1</text>
<text x="18.7" y="349.5" text-anchor="middle" font-size="32.5" fill="#4D4D4D">1897</text>
<text x="109.15" y="349.5" text-anchor="middle" font-size="32.5" fill="#4D4D4D">1927</text>
<text x="199.6" y="349.5" text-anchor="middle" font-size="32.5" fill="#4D4D4D">1957</text>
<text x="290.05" y="349.5" text-anchor="middle" font-size="32.5" fill="#4D4D4D">1987</text>
<text x="380.5" y="349.5" text-anchor="middle" font-size="32.5" fill="#4D4D4D">2017</text>
<text x="210.1" y="-17.6" text-anchor="middle" font-size="40" fill="#000">Iran</text>
<text x="210.1" y="390.1" text-anchor="middle" font-size="39.5" fill="#000">Cohort</text>
</g>
<g transform="translate(613.5 1442.3)">
<line x1="0" x2="420.2" y1="14.1" y2="14.1" stroke="#F3F3F3" stroke-width="1.3"/>
<line x1="0" x2="420.2" y1="30.39" y2="30.39" stroke="#F3F3F3" stroke-width="1.3"/>
<line x1="0" x2="420.2" y1="46.67" y2="46.67" stroke="#F3F3F3" stroke-width="1.3"/>
<line x1="0" x2="420.2" y1="68.2" y2="68.2" stroke="#F3F3F3" stroke-width="1.3"/>
<line x1="0" x2="420.2" y1="89.73" y2="89.73" stroke="#F3F3F3" stroke-width="1.3"/>
<line x1="0" x2="420.2" y1="106.01" y2="106.01" stroke="#F3F3F3" stroke-width="1.3"/>
<line x1="0" x2="420.2" y1="122.3" y2="122.3" stroke="#F3F3F3" stroke-width="1.3"/>
<line x1="0" x2="420.2" y1="160.11" y2="160.11" stroke="#F3F3F3" stroke-width="1.3"/>
<line x1="0" x2="420.2" y1="197.93" y2="197.93" stroke="#F3F3F3" stroke-width="1.3"/>
<line x1="0" x2="420.2" y1="214.21" y2="214.21" stroke="#F3F3F3" stroke-width="1.3"/>
<line x1="0" x2="420.2" y1="230.5" y2="230.5" stroke="#F3F3F3" stroke-width="1.3"/>
<line x1="0" x2="420.2" y1="246.79" y2="246.79" stroke="#F3F3F3" stroke-width="1.3"/>
<line x1="0" x2="420.2" y1="263.07" y2="263.07" stroke="#F3F3F3" stroke-width="1.3"/>
<line x1="63.92" x2="63.92" y1="0" y2="321.1" stroke="#F3F3F3" stroke-width="1.3"/>
<line x1="154.38" x2="154.38" y1="0" y2="321.1" stroke="#F3F3F3" stroke-width="1.3"/>
<line x1="244.82" x2="244.82" y1="0" y2="321.1" stroke="#F3F3F3" stroke-width="1.3"/>
<line x1="335.27" x2="335.27" y1="0" y2="321.1" stroke="#F3F3F3" stroke-width="1.3"/>
<line x1="0" x2="420.2" y1="46.67" y2="46.67" stroke="#EFEFEF" stroke-width="1.5"/>
<line x1="0" x2="420.2" y1="89.73" y2="89.73" stroke="#EFEFEF" stroke-width="1.5"/>
<line x1="0" x2="420.2" y1="122.3" y2="122.3" stroke="#EFEFEF" stroke-width="1.5"/>
<line x1="0" x2="420.2" y1="197.93" y2="197.93" stroke="#EFEFEF" stroke-width="1.5"/>
<line x1="0" x2="420.2" y1="230.5" y2="230.5" stroke="#EFEFEF" stroke-width="1.5"/>
<line x1="18.7" x2="18.7" y1="0" y2="321.1" stroke="#EFEFEF" stroke-width="1.5"/>
<line x1="109.15" x2="109.15" y1="0" y2="321.1" stroke="#EFEFEF" stroke-width="1.5"/>
<line x1="199.6" x2="199.6" y1="0" y2="321.1" stroke="#EFEFEF" stroke-width="1.5"/>
<line x1="290.05" x2="290.05" y1="0" y2="321.1" stroke="#EFEFEF" stroke-width="1.5"/>
<line x1="380.5" x2="380.5" y1="0" y2="321.1" stroke="#EFEFEF" stroke-width="1.5"/>
<ellipse cx="-54" cy="160.75" rx="0.7" ry="1.3" fill="#9a9a9a"/>
<path d="M33.77 41.45L48.85 43.7L63.92 47.1L79 50.8L94.08 57.7L109.15 65L124.23 72.5L139.3 80.6L154.38 90.3L169.45 99.4L184.53 111.2L199.6 122.3L214.67 133.3L229.75 144.4L244.82 153.7L259.9 162.4L274.98 171.5L290.05 180L305.12 189.8L320.2 200.2L335.27 214.5L350.35 226.9L365.43 240.6L380.5 258.2" fill="none" stroke="#75ACD6" stroke-width="4.9" stroke-linejoin="round" stroke-linecap="butt"/>
<path d="M33.77 32.9L48.85 36L63.92 42.3L79 48.8L94.08 56L109.15 62.9L124.23 70.4L139.3 78.5L154.38 87.9L169.45 97.3L184.53 110.4L199.6 122.3L214.67 134.8L229.75 145.9L244.82 156.95L259.9 170L274.98 179.7L290.05 190.2L305.12 196.7L320.2 209.1L335.27 220.8L350.35 232.5L365.43 243.6L380.5 262.5" fill="none" stroke="#E8C28B" stroke-width="4.9" stroke-linejoin="round" stroke-linecap="butt"/>
<path d="M33.77 50.2L48.85 50.8L63.92 51.45L79 55.2L94.08 60.2L109.15 67.1L124.23 74.6L139.3 82.7L154.38 92.7L169.45 101.45L184.53 112.1L199.6 122.3L214.67 131.8L229.75 142.9L244.82 150.7L259.9 157.2L274.98 163.7L290.05 172.2L305.12 182L320.2 193L335.27 207.4L350.35 221.7L365.43 236.7L380.5 254.3" fill="none" stroke="#AFAFAF" stroke-width="4.9" stroke-linejoin="round" stroke-linecap="butt"/>
<circle cx="33.77" cy="41.45" r="4.75" fill="#75ACD6"/>
<circle cx="48.85" cy="43.7" r="4.75" fill="#75ACD6"/>
<circle cx="63.92" cy="47.1" r="4.75" fill="#75ACD6"/>
<circle cx="79" cy="50.8" r="4.75" fill="#75ACD6"/>
<circle cx="94.08" cy="57.7" r="4.75" fill="#75ACD6"/>
<circle cx="109.15" cy="65" r="4.75" fill="#75ACD6"/>
<circle cx="124.23" cy="72.5" r="4.75" fill="#75ACD6"/>
<circle cx="139.3" cy="80.6" r="4.75" fill="#75ACD6"/>
<circle cx="154.38" cy="90.3" r="4.75" fill="#75ACD6"/>
<circle cx="169.45" cy="99.4" r="4.75" fill="#75ACD6"/>
<circle cx="184.53" cy="111.2" r="4.75" fill="#75ACD6"/>
<circle cx="199.6" cy="122.3" r="4.75" fill="#75ACD6"/>
<circle cx="214.67" cy="133.3" r="4.75" fill="#75ACD6"/>
<circle cx="229.75" cy="144.4" r="4.75" fill="#75ACD6"/>
<circle cx="244.82" cy="153.7" r="4.75" fill="#75ACD6"/>
<circle cx="259.9" cy="162.4" r="4.75" fill="#75ACD6"/>
<circle cx="274.98" cy="171.5" r="4.75" fill="#75ACD6"/>
<circle cx="290.05" cy="180" r="4.75" fill="#75ACD6"/>
<circle cx="305.12" cy="189.8" r="4.75" fill="#75ACD6"/>
<circle cx="320.2" cy="200.2" r="4.75" fill="#75ACD6"/>
<circle cx="335.27" cy="214.5" r="4.75" fill="#75ACD6"/>
<circle cx="350.35" cy="226.9" r="4.75" fill="#75ACD6"/>
<circle cx="365.43" cy="240.6" r="4.75" fill="#75ACD6"/>
<circle cx="380.5" cy="258.2" r="4.75" fill="#75ACD6"/>
<path d="M33.77 25.77L39.95 36.47L27.6 36.47ZM48.85 28.87L55.03 39.57L42.67 39.57ZM63.92 35.17L70.1 45.87L57.75 45.87ZM79 41.67L85.18 52.37L72.82 52.37ZM94.08 48.87L100.25 59.57L87.9 59.57ZM109.15 55.77L115.33 66.47L102.97 66.47ZM124.23 63.27L130.4 73.97L118.05 73.97ZM139.3 71.37L145.48 82.07L133.12 82.07ZM154.38 80.77L160.55 91.47L148.2 91.47ZM169.45 90.17L175.63 100.87L163.27 100.87ZM184.53 103.27L190.7 113.97L178.35 113.97ZM199.6 115.17L205.78 125.87L193.42 125.87ZM214.67 127.67L220.85 138.37L208.5 138.37ZM229.75 138.77L235.93 149.47L223.57 149.47ZM244.82 149.82L251 160.52L238.65 160.52ZM259.9 162.87L266.08 173.57L253.72 173.57ZM274.98 172.57L281.15 183.27L268.8 183.27ZM290.05 183.07L296.23 193.77L283.87 193.77ZM305.12 189.57L311.3 200.27L298.95 200.27ZM320.2 201.97L326.38 212.67L314.02 212.67ZM335.27 213.67L341.45 224.37L329.1 224.37ZM350.35 225.37L356.53 236.07L344.17 236.07ZM365.43 236.47L371.6 247.17L359.25 247.17ZM380.5 255.37L386.68 266.07L374.32 266.07Z" fill="#E8C28B"/>
<rect x="29.38" y="45.8" width="8.8" height="8.8" fill="#AFAFAF"/>
<rect x="44.45" y="46.4" width="8.8" height="8.8" fill="#AFAFAF"/>
<rect x="59.52" y="47.05" width="8.8" height="8.8" fill="#AFAFAF"/>
<rect x="74.6" y="50.8" width="8.8" height="8.8" fill="#AFAFAF"/>
<rect x="89.67" y="55.8" width="8.8" height="8.8" fill="#AFAFAF"/>
<rect x="104.75" y="62.7" width="8.8" height="8.8" fill="#AFAFAF"/>
<rect x="119.83" y="70.2" width="8.8" height="8.8" fill="#AFAFAF"/>
<rect x="134.9" y="78.3" width="8.8" height="8.8" fill="#AFAFAF"/>
<rect x="149.97" y="88.3" width="8.8" height="8.8" fill="#AFAFAF"/>
<rect x="165.05" y="97.05" width="8.8" height="8.8" fill="#AFAFAF"/>
<rect x="180.12" y="107.7" width="8.8" height="8.8" fill="#AFAFAF"/>
<rect x="195.2" y="117.9" width="8.8" height="8.8" fill="#AFAFAF"/>
<rect x="210.27" y="127.4" width="8.8" height="8.8" fill="#AFAFAF"/>
<rect x="225.35" y="138.5" width="8.8" height="8.8" fill="#AFAFAF"/>
<rect x="240.42" y="146.3" width="8.8" height="8.8" fill="#AFAFAF"/>
<rect x="255.5" y="152.8" width="8.8" height="8.8" fill="#AFAFAF"/>
<rect x="270.58" y="159.3" width="8.8" height="8.8" fill="#AFAFAF"/>
<rect x="285.65" y="167.8" width="8.8" height="8.8" fill="#AFAFAF"/>
<rect x="300.73" y="177.6" width="8.8" height="8.8" fill="#AFAFAF"/>
<rect x="315.8" y="188.6" width="8.8" height="8.8" fill="#AFAFAF"/>
<rect x="330.88" y="203" width="8.8" height="8.8" fill="#AFAFAF"/>
<rect x="345.95" y="217.3" width="8.8" height="8.8" fill="#AFAFAF"/>
<rect x="361.03" y="232.3" width="8.8" height="8.8" fill="#AFAFAF"/>
<rect x="376.1" y="249.9" width="8.8" height="8.8" fill="#AFAFAF"/>
<line x1="0" x2="420.2" y1="122.3" y2="122.3" stroke="#7a7a7a" stroke-width="1.5" stroke-dasharray="5.3 4.6" stroke-dashoffset="1"/>
<line x1="199.6" x2="199.6" y1="0" y2="321.1" stroke="#747474" stroke-width="1.5" stroke-dasharray="5 4.9"/>
<line x1="0" y1="0" x2="420.2" y2="0" stroke="#7a7a7a" stroke-width="1.4"/>
<line x1="420.2" y1="0" x2="420.2" y2="321.1" stroke="#7a7a7a" stroke-width="1.4"/>
<line x1="0" y1="0" x2="0" y2="321.1" stroke="#bdbdbd" stroke-width="1.6"/>
<line x1="-0.8" y1="321.1" x2="420.9" y2="321.1" stroke="#333" stroke-width="1.5"/>
<line x1="0" x2="3.8" y1="46.67" y2="46.67" stroke="#444" stroke-width="1.4"/>
<line x1="0" x2="3.8" y1="89.73" y2="89.73" stroke="#444" stroke-width="1.4"/>
<line x1="0" x2="3.8" y1="122.3" y2="122.3" stroke="#444" stroke-width="1.4"/>
<line x1="0" x2="3.8" y1="197.93" y2="197.93" stroke="#444" stroke-width="1.4"/>
<line x1="0" x2="3.8" y1="230.5" y2="230.5" stroke="#444" stroke-width="1.4"/>
<line x1="18.7" x2="18.7" y1="321.1" y2="317.1" stroke="#444" stroke-width="1.4"/>
<line x1="109.15" x2="109.15" y1="321.1" y2="317.1" stroke="#444" stroke-width="1.4"/>
<line x1="199.6" x2="199.6" y1="321.1" y2="317.1" stroke="#444" stroke-width="1.4"/>
<line x1="290.05" x2="290.05" y1="321.1" y2="317.1" stroke="#444" stroke-width="1.4"/>
<line x1="380.5" x2="380.5" y1="321.1" y2="317.1" stroke="#444" stroke-width="1.4"/>
<text x="-3.8" y="58.37" text-anchor="end" font-size="32.5" fill="#4D4D4D">5.0</text>
<text x="-3.8" y="101.43" text-anchor="end" font-size="32.5" fill="#4D4D4D">2.0</text>
<text x="-3.8" y="134" text-anchor="end" font-size="32.5" fill="#4D4D4D">1.0</text>
<text x="-3.8" y="209.63" text-anchor="end" font-size="32.5" fill="#4D4D4D">0.2</text>
<text x="-3.8" y="242.2" text-anchor="end" font-size="32.5" fill="#4D4D4D">0.1</text>
<text x="18.7" y="349.5" text-anchor="middle" font-size="32.5" fill="#4D4D4D">1897</text>
<text x="109.15" y="349.5" text-anchor="middle" font-size="32.5" fill="#4D4D4D">1927</text>
<text x="199.6" y="349.5" text-anchor="middle" font-size="32.5" fill="#4D4D4D">1957</text>
<text x="290.05" y="349.5" text-anchor="middle" font-size="32.5" fill="#4D4D4D">1987</text>
<text x="380.5" y="349.5" text-anchor="middle" font-size="32.5" fill="#4D4D4D">2017</text>
<text x="210.1" y="-17.6" text-anchor="middle" font-size="40" fill="#000">Ethiopia</text>
<text x="210.1" y="390.1" text-anchor="middle" font-size="39.5" fill="#000">Cohort</text>
</g>
<text transform="translate(28.3 910) rotate(-90)" text-anchor="middle" font-size="32" font-weight="bold" fill="#000">Rate ratio</text>
<text x="1089" y="1511" font-size="37" fill="#000">Group</text>
<line x1="1093.6" x2="1140.2" y1="1560.6" y2="1560.6" stroke="#75ACD6" stroke-width="4.4"/>
<circle cx="1117.7" cy="1560.9" r="5.3" fill="#75ACD6"/>
<text x="1164.6" y="1571.9" font-size="28.3" fill="#000">Both</text>
<line x1="1093.6" x2="1140.2" y1="1620" y2="1620" stroke="#E8C28B" stroke-width="4.4"/>
<path d="M1117.7 1611.17L1124.92 1623.67L1110.48 1623.67Z" fill="#E8C28B"/>
<text x="1164.6" y="1631.3" font-size="28.3" fill="#000">Female</text>
<line x1="1093.6" x2="1140.2" y1="1678.5" y2="1678.5" stroke="#AFAFAF" stroke-width="4.4"/>
<rect x="1112.2" y="1673" width="11" height="11" fill="#AFAFAF"/>
<text x="1164.6" y="1689.8" font-size="28.3" fill="#000">Male</text>
</svg></body></html>
